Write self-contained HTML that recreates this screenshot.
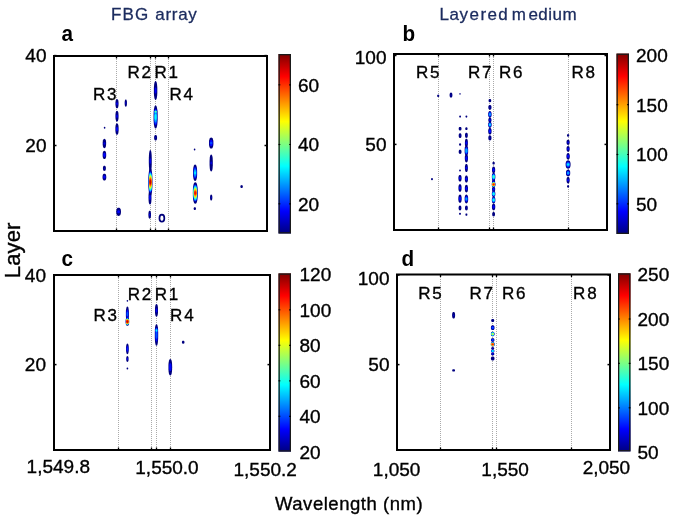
<!DOCTYPE html><html><head><meta charset="utf-8"><style>html,body{margin:0;padding:0;background:#fff;}svg{display:block;will-change:transform;}text{font-family:"Liberation Sans", sans-serif;stroke:#000;stroke-width:0.35px;}.t{stroke:#1b2b5e;stroke-width:0.3px;}</style></head><body>
<svg width="675" height="519" viewBox="0 0 675 519">
<defs><linearGradient id="jet" x1="0" y1="1" x2="0" y2="0"><stop offset="0" stop-color="#000080"/><stop offset="0.125" stop-color="#0000ff"/><stop offset="0.375" stop-color="#00ffff"/><stop offset="0.625" stop-color="#ffff00"/><stop offset="0.875" stop-color="#ff0000"/><stop offset="1" stop-color="#800000"/></linearGradient></defs>
<rect width="675" height="519" fill="#fff"/>
<text class="t" x="111.0" y="19.8" font-size="17" fill="#1b2b5e" letter-spacing="1.2">FBG</text>
<text class="t" x="155.3" y="19.8" font-size="17" fill="#1b2b5e" letter-spacing="0.7">array</text>
<text class="t" x="439.5" y="20.2" font-size="17" fill="#1b2b5e" letter-spacing="0.5">Lay</text>
<text class="t" x="469.6" y="20.2" font-size="17" fill="#1b2b5e" letter-spacing="1.4">ered</text>
<text class="t" x="511.7" y="20.2" font-size="17" fill="#1b2b5e">m</text>
<text class="t" x="528.4" y="20.2" font-size="17" fill="#1b2b5e" letter-spacing="0.5">edium</text>
<text transform="translate(61.5,40.5) scale(0.92,1)" font-size="22.5" font-weight="bold" fill="#000" style="stroke:none">a</text>
<text transform="translate(402.5,40.5) scale(0.92,1)" font-size="22.5" font-weight="bold" fill="#000" style="stroke:none">b</text>
<text transform="translate(61.5,265.8) scale(0.92,1)" font-size="22.5" font-weight="bold" fill="#000" style="stroke:none">c</text>
<text transform="translate(401.5,265.8) scale(0.92,1)" font-size="22.5" font-weight="bold" fill="#000" style="stroke:none">d</text>
<line x1="116.5" y1="57" x2="116.5" y2="231" stroke="#aaaaaa" stroke-width="1" stroke-dasharray="1 1"/>
<line x1="150.5" y1="57" x2="150.5" y2="231" stroke="#aaaaaa" stroke-width="1" stroke-dasharray="1 1"/>
<line x1="155.5" y1="57" x2="155.5" y2="231" stroke="#aaaaaa" stroke-width="1" stroke-dasharray="1 1"/>
<line x1="168.5" y1="57" x2="168.5" y2="231" stroke="#aaaaaa" stroke-width="1" stroke-dasharray="1 1"/>
<line x1="438.5" y1="55" x2="438.5" y2="230" stroke="#aaaaaa" stroke-width="1" stroke-dasharray="1 1"/>
<line x1="489.5" y1="55" x2="489.5" y2="230" stroke="#aaaaaa" stroke-width="1" stroke-dasharray="1 1"/>
<line x1="493.5" y1="55" x2="493.5" y2="230" stroke="#aaaaaa" stroke-width="1" stroke-dasharray="1 1"/>
<line x1="568.5" y1="55" x2="568.5" y2="230" stroke="#aaaaaa" stroke-width="1" stroke-dasharray="1 1"/>
<line x1="118.5" y1="276" x2="118.5" y2="450" stroke="#aaaaaa" stroke-width="1" stroke-dasharray="1 1"/>
<line x1="151.5" y1="276" x2="151.5" y2="450" stroke="#aaaaaa" stroke-width="1" stroke-dasharray="1 1"/>
<line x1="156.5" y1="276" x2="156.5" y2="450" stroke="#aaaaaa" stroke-width="1" stroke-dasharray="1 1"/>
<line x1="170.5" y1="276" x2="170.5" y2="450" stroke="#aaaaaa" stroke-width="1" stroke-dasharray="1 1"/>
<line x1="440.5" y1="275" x2="440.5" y2="450" stroke="#aaaaaa" stroke-width="1" stroke-dasharray="1 1"/>
<line x1="492.5" y1="275" x2="492.5" y2="450" stroke="#aaaaaa" stroke-width="1" stroke-dasharray="1 1"/>
<line x1="496.5" y1="275" x2="496.5" y2="450" stroke="#aaaaaa" stroke-width="1" stroke-dasharray="1 1"/>
<line x1="571.5" y1="275" x2="571.5" y2="450" stroke="#aaaaaa" stroke-width="1" stroke-dasharray="1 1"/>
<path d="M118.56,103.70 L118.53,105.01 L118.43,105.99 L118.27,106.80 L118.05,107.45 L117.78,107.92 L117.45,108.20 L117.00,108.30 L116.55,108.20 L116.22,107.92 L115.95,107.45 L115.73,106.80 L115.57,105.99 L115.47,105.01 L115.44,103.70 L115.47,102.39 L115.57,101.41 L115.73,100.60 L115.95,99.95 L116.22,99.48 L116.55,99.20 L117.00,99.10 L117.45,99.20 L117.78,99.48 L118.05,99.95 L118.27,100.60 L118.43,101.41 L118.53,102.39Z" fill="#000080"/>
<path d="M118.56,116.20 L118.53,117.74 L118.43,118.89 L118.27,119.84 L118.05,120.60 L117.78,121.15 L117.45,121.49 L117.00,121.60 L116.55,121.49 L116.22,121.15 L115.95,120.60 L115.73,119.84 L115.57,118.89 L115.47,117.74 L115.44,116.20 L115.47,114.66 L115.57,113.51 L115.73,112.56 L115.95,111.80 L116.22,111.25 L116.55,110.91 L117.00,110.80 L117.45,110.91 L117.78,111.25 L118.05,111.80 L118.27,112.56 L118.43,113.51 L118.53,114.66Z" fill="#000080"/>
<path d="M118.64,129.10 L118.61,130.73 L118.50,131.94 L118.34,132.95 L118.11,133.74 L117.82,134.33 L117.47,134.68 L117.00,134.80 L116.53,134.68 L116.18,134.33 L115.89,133.74 L115.66,132.95 L115.50,131.94 L115.39,130.73 L115.36,129.10 L115.39,127.47 L115.50,126.26 L115.66,125.25 L115.89,124.46 L116.18,123.87 L116.53,123.52 L117.00,123.40 L117.47,123.52 L117.82,123.87 L118.11,124.46 L118.34,125.25 L118.50,126.26 L118.61,127.47Z" fill="#000080"/>
<path d="M126.95,103.10 L126.92,104.13 L126.85,104.90 L126.74,105.53 L126.57,106.03 L126.37,106.40 L126.13,106.62 L125.80,106.70 L125.47,106.62 L125.23,106.40 L125.03,106.03 L124.86,105.53 L124.75,104.90 L124.68,104.13 L124.65,103.10 L124.68,102.07 L124.75,101.30 L124.86,100.67 L125.03,100.17 L125.23,99.80 L125.47,99.58 L125.80,99.50 L126.13,99.58 L126.37,99.80 L126.57,100.17 L126.74,100.67 L126.85,101.30 L126.92,102.07Z" fill="#000080"/>
<ellipse cx="104.6" cy="127.8" rx="0.82" ry="1.00" fill="#000080"/>
<path d="M106.12,143.50 L106.09,144.84 L105.98,145.84 L105.80,146.67 L105.56,147.33 L105.26,147.81 L104.89,148.10 L104.40,148.20 L103.91,148.10 L103.54,147.81 L103.24,147.33 L103.00,146.67 L102.82,145.84 L102.71,144.84 L102.68,143.50 L102.71,142.16 L102.82,141.16 L103.00,140.33 L103.24,139.67 L103.54,139.19 L103.91,138.90 L104.40,138.80 L104.89,138.90 L105.26,139.19 L105.56,139.67 L105.80,140.33 L105.98,141.16 L106.09,142.16Z" fill="#000080"/>
<path d="M106.20,154.90 L106.17,156.07 L106.05,156.94 L105.87,157.67 L105.62,158.24 L105.30,158.66 L104.92,158.91 L104.40,159.00 L103.88,158.91 L103.50,158.66 L103.18,158.24 L102.93,157.67 L102.75,156.94 L102.63,156.07 L102.60,154.90 L102.63,153.73 L102.75,152.86 L102.93,152.13 L103.18,151.56 L103.50,151.14 L103.88,150.89 L104.40,150.80 L104.92,150.89 L105.30,151.14 L105.62,151.56 L105.87,152.13 L106.05,152.86 L106.17,153.73Z" fill="#000080"/>
<path d="M105.88,168.30 L105.85,169.04 L105.75,169.60 L105.60,170.05 L105.40,170.42 L105.14,170.68 L104.82,170.85 L104.40,170.90 L103.98,170.85 L103.66,170.68 L103.40,170.42 L103.20,170.05 L103.05,169.60 L102.95,169.04 L102.92,168.30 L102.95,167.56 L103.05,167.00 L103.20,166.55 L103.40,166.18 L103.66,165.92 L103.98,165.75 L104.40,165.70 L104.82,165.75 L105.14,165.92 L105.40,166.18 L105.60,166.55 L105.75,167.00 L105.85,167.56Z" fill="#000080"/>
<path d="M106.29,177.10 L106.25,178.07 L106.13,178.80 L105.94,179.39 L105.67,179.87 L105.34,180.22 L104.94,180.43 L104.40,180.50 L103.86,180.43 L103.46,180.22 L103.13,179.87 L102.86,179.39 L102.67,178.80 L102.55,178.07 L102.51,177.10 L102.55,176.13 L102.67,175.40 L102.86,174.81 L103.13,174.33 L103.46,173.98 L103.86,173.77 L104.40,173.70 L104.94,173.77 L105.34,173.98 L105.67,174.33 L105.94,174.81 L106.13,175.40 L106.25,176.13Z" fill="#000080"/>
<path d="M120.98,211.80 L120.93,212.97 L120.78,213.84 L120.54,214.57 L120.20,215.14 L119.79,215.56 L119.28,215.81 L118.60,215.90 L117.92,215.81 L117.41,215.56 L117.00,215.14 L116.66,214.57 L116.42,213.84 L116.27,212.97 L116.22,211.80 L116.27,210.63 L116.42,209.76 L116.66,209.03 L117.00,208.46 L117.41,208.04 L117.92,207.79 L118.60,207.70 L119.28,207.79 L119.79,208.04 L120.20,208.46 L120.54,209.03 L120.78,209.76 L120.93,210.63Z" fill="#000080"/>
<path d="M157.32,90.50 L157.29,93.19 L157.18,95.19 L157.00,96.84 L156.76,98.16 L156.46,99.12 L156.09,99.70 L155.60,99.90 L155.11,99.70 L154.74,99.12 L154.44,98.16 L154.20,96.84 L154.02,95.19 L153.91,93.19 L153.88,90.50 L153.91,87.81 L154.02,85.81 L154.20,84.16 L154.44,82.84 L154.74,81.88 L155.11,81.30 L155.60,81.10 L156.09,81.30 L156.46,81.88 L156.76,82.84 L157.00,84.16 L157.18,85.81 L157.29,87.81Z" fill="#000080"/>
<path d="M157.65,117.00 L157.61,120.29 L157.48,122.73 L157.27,124.76 L156.98,126.37 L156.62,127.54 L156.19,128.26 L155.60,128.50 L155.01,128.26 L154.58,127.54 L154.22,126.37 L153.93,124.76 L153.72,122.73 L153.59,120.29 L153.55,117.00 L153.59,113.71 L153.72,111.27 L153.93,109.24 L154.22,107.63 L154.58,106.46 L155.01,105.74 L155.60,105.50 L156.19,105.74 L156.62,106.46 L156.98,107.63 L157.27,109.24 L157.48,111.27 L157.61,113.71Z" fill="#000080"/>
<path d="M157.24,111.80 L157.21,112.51 L157.10,113.05 L156.94,113.49 L156.71,113.84 L156.42,114.09 L156.07,114.25 L155.60,114.30 L155.13,114.25 L154.78,114.09 L154.49,113.84 L154.26,113.49 L154.10,113.05 L153.99,112.51 L153.96,111.80 L153.99,111.09 L154.10,110.55 L154.26,110.11 L154.49,109.76 L154.78,109.51 L155.13,109.35 L155.60,109.30 L156.07,109.35 L156.42,109.51 L156.71,109.76 L156.94,110.11 L157.10,110.55 L157.21,111.09Z" fill="#000080"/>
<path d="M157.08,137.70 L157.05,138.50 L156.95,139.10 L156.80,139.59 L156.60,139.98 L156.34,140.27 L156.02,140.44 L155.60,140.50 L155.18,140.44 L154.86,140.27 L154.60,139.98 L154.40,139.59 L154.25,139.10 L154.15,138.50 L154.12,137.70 L154.15,136.90 L154.25,136.30 L154.40,135.81 L154.60,135.42 L154.86,135.13 L155.18,134.96 L155.60,134.90 L156.02,134.96 L156.34,135.13 L156.60,135.42 L156.80,135.81 L156.95,136.30 L157.05,136.90Z" fill="#000080"/>
<path d="M151.78,161.00 L151.75,164.14 L151.65,166.49 L151.50,168.42 L151.30,169.96 L151.04,171.08 L150.72,171.77 L150.30,172.00 L149.88,171.77 L149.56,171.08 L149.30,169.96 L149.10,168.42 L148.95,166.49 L148.85,164.14 L148.82,161.00 L148.85,157.86 L148.95,155.51 L149.10,153.58 L149.30,152.04 L149.56,150.92 L149.88,150.23 L150.30,150.00 L150.72,150.23 L151.04,150.92 L151.30,152.04 L151.50,153.58 L151.65,155.51 L151.75,157.86Z" fill="#000080"/>
<path d="M152.45,182.00 L152.41,185.86 L152.28,188.73 L152.07,191.11 L151.78,193.00 L151.42,194.38 L150.99,195.22 L150.40,195.50 L149.81,195.22 L149.38,194.38 L149.02,193.00 L148.73,191.11 L148.52,188.73 L148.39,185.86 L148.35,182.00 L148.39,178.14 L148.52,175.27 L148.73,172.89 L149.02,171.00 L149.38,169.62 L149.81,168.78 L150.40,168.50 L150.99,168.78 L151.42,169.62 L151.78,171.00 L152.07,172.89 L152.28,175.27 L152.41,178.14Z" fill="#000080"/>
<path d="M151.48,197.50 L151.45,199.50 L151.35,200.99 L151.20,202.22 L151.00,203.20 L150.74,203.92 L150.42,204.35 L150.00,204.50 L149.58,204.35 L149.26,203.92 L149.00,203.20 L148.80,202.22 L148.65,200.99 L148.55,199.50 L148.52,197.50 L148.55,195.50 L148.65,194.01 L148.80,192.78 L149.00,191.80 L149.26,191.08 L149.58,190.65 L150.00,190.50 L150.42,190.65 L150.74,191.08 L151.00,191.80 L151.20,192.78 L151.35,194.01 L151.45,195.50Z" fill="#000080"/>
<path d="M151.01,214.70 L150.98,215.84 L150.90,216.69 L150.77,217.40 L150.59,217.96 L150.35,218.37 L150.08,218.62 L149.70,218.70 L149.32,218.62 L149.05,218.37 L148.81,217.96 L148.63,217.40 L148.50,216.69 L148.42,215.84 L148.39,214.70 L148.42,213.56 L148.50,212.71 L148.63,212.00 L148.81,211.44 L149.05,211.03 L149.32,210.78 L149.70,210.70 L150.08,210.78 L150.35,211.03 L150.59,211.44 L150.77,212.00 L150.90,212.71 L150.98,213.56Z" fill="#000080"/>
<ellipse cx="194.6" cy="149.6" rx="0.82" ry="1.00" fill="#000080"/>
<path d="M213.41,143.10 L213.37,144.67 L213.23,145.84 L213.00,146.81 L212.69,147.58 L212.30,148.14 L211.83,148.48 L211.20,148.60 L210.57,148.48 L210.10,148.14 L209.71,147.58 L209.40,146.81 L209.17,145.84 L209.03,144.67 L208.99,143.10 L209.03,141.53 L209.17,140.36 L209.40,139.39 L209.71,138.62 L210.10,138.06 L210.57,137.72 L211.20,137.60 L211.83,137.72 L212.30,138.06 L212.69,138.62 L213.00,139.39 L213.23,140.36 L213.37,141.53Z" fill="#000080"/>
<path d="M212.84,163.00 L212.81,165.43 L212.70,167.24 L212.54,168.73 L212.31,169.92 L212.02,170.79 L211.67,171.32 L211.20,171.50 L210.73,171.32 L210.38,170.79 L210.09,169.92 L209.86,168.73 L209.70,167.24 L209.59,165.43 L209.56,163.00 L209.59,160.57 L209.70,158.76 L209.86,157.27 L210.09,156.08 L210.38,155.21 L210.73,154.68 L211.20,154.50 L211.67,154.68 L212.02,155.21 L212.31,156.08 L212.54,157.27 L212.70,158.76 L212.81,160.57Z" fill="#000080"/>
<path d="M212.35,197.60 L212.32,198.46 L212.25,199.10 L212.14,199.62 L211.97,200.04 L211.77,200.35 L211.53,200.54 L211.20,200.60 L210.87,200.54 L210.63,200.35 L210.43,200.04 L210.26,199.62 L210.15,199.10 L210.08,198.46 L210.05,197.60 L210.08,196.74 L210.15,196.10 L210.26,195.58 L210.43,195.16 L210.63,194.85 L210.87,194.66 L211.20,194.60 L211.53,194.66 L211.77,194.85 L211.97,195.16 L212.14,195.58 L212.25,196.10 L212.32,196.74Z" fill="#000080"/>
<path d="M242.83,186.60 L242.80,187.03 L242.73,187.35 L242.60,187.61 L242.43,187.82 L242.21,187.98 L241.95,188.07 L241.60,188.10 L241.25,188.07 L240.99,187.98 L240.77,187.82 L240.60,187.61 L240.47,187.35 L240.40,187.03 L240.37,186.60 L240.40,186.17 L240.47,185.85 L240.60,185.59 L240.77,185.38 L240.99,185.22 L241.25,185.13 L241.60,185.10 L241.95,185.13 L242.21,185.22 L242.43,185.38 L242.60,185.59 L242.73,185.85 L242.80,186.17Z" fill="#000080"/>
<path d="M197.15,172.80 L197.11,175.14 L196.98,176.89 L196.77,178.33 L196.48,179.48 L196.12,180.32 L195.69,180.83 L195.10,181.00 L194.51,180.83 L194.08,180.32 L193.72,179.48 L193.43,178.33 L193.22,176.89 L193.09,175.14 L193.05,172.80 L193.09,170.46 L193.22,168.71 L193.43,167.27 L193.72,166.12 L194.08,165.28 L194.51,164.77 L195.10,164.60 L195.69,164.77 L196.12,165.28 L196.48,166.12 L196.77,167.27 L196.98,168.71 L197.11,170.46Z" fill="#000080"/>
<path d="M197.76,193.00 L197.71,196.09 L197.56,198.39 L197.30,200.29 L196.96,201.80 L196.53,202.90 L196.00,203.57 L195.30,203.80 L194.60,203.57 L194.07,202.90 L193.64,201.80 L193.30,200.29 L193.04,198.39 L192.89,196.09 L192.84,193.00 L192.89,189.91 L193.04,187.61 L193.30,185.71 L193.64,184.20 L194.07,183.10 L194.60,182.43 L195.30,182.20 L196.00,182.43 L196.53,183.10 L196.96,184.20 L197.30,185.71 L197.56,187.61 L197.71,189.91Z" fill="#000080"/>
<path d="M195.95,208.60 L195.92,209.00 L195.85,209.30 L195.74,209.54 L195.57,209.74 L195.37,209.88 L195.13,209.97 L194.80,210.00 L194.47,209.97 L194.23,209.88 L194.03,209.74 L193.86,209.54 L193.75,209.30 L193.68,209.00 L193.65,208.60 L193.68,208.20 L193.75,207.90 L193.86,207.66 L194.03,207.46 L194.23,207.32 L194.47,207.23 L194.80,207.20 L195.13,207.23 L195.37,207.32 L195.57,207.46 L195.74,207.66 L195.85,207.90 L195.92,208.20Z" fill="#000080"/>
<path d="M117.82,103.70 L117.80,104.08 L117.75,104.37 L117.67,104.61 L117.55,104.79 L117.41,104.93 L117.23,105.02 L117.00,105.04 L116.77,105.02 L116.59,104.93 L116.45,104.79 L116.33,104.61 L116.25,104.37 L116.20,104.08 L116.18,103.70 L116.20,103.32 L116.25,103.03 L116.33,102.79 L116.45,102.61 L116.59,102.47 L116.77,102.38 L117.00,102.36 L117.23,102.38 L117.41,102.47 L117.55,102.61 L117.67,102.79 L117.75,103.03 L117.80,103.32Z" fill="#0000f5"/>
<path d="M117.82,116.20 L117.80,116.65 L117.75,116.99 L117.67,117.26 L117.55,117.48 L117.41,117.65 L117.23,117.74 L117.00,117.78 L116.77,117.74 L116.59,117.65 L116.45,117.48 L116.33,117.26 L116.25,116.99 L116.20,116.65 L116.18,116.20 L116.20,115.75 L116.25,115.41 L116.33,115.14 L116.45,114.92 L116.59,114.75 L116.77,114.66 L117.00,114.62 L117.23,114.66 L117.41,114.75 L117.55,114.92 L117.67,115.14 L117.75,115.41 L117.80,115.75Z" fill="#0000f5"/>
<path d="M117.94,129.10 L117.92,129.71 L117.86,130.16 L117.77,130.53 L117.63,130.83 L117.47,131.05 L117.27,131.18 L117.00,131.22 L116.73,131.18 L116.53,131.05 L116.37,130.83 L116.23,130.53 L116.14,130.16 L116.08,129.71 L116.06,129.10 L116.08,128.49 L116.14,128.04 L116.23,127.67 L116.37,127.37 L116.53,127.15 L116.73,127.02 L117.00,126.98 L117.27,127.02 L117.47,127.15 L117.63,127.37 L117.77,127.67 L117.86,128.04 L117.92,128.49Z" fill="#0005ff"/>
<ellipse cx="125.8" cy="103.1" rx="0.55" ry="0.78" fill="#0000eb"/>
<path d="M105.27,143.50 L105.25,143.85 L105.20,144.10 L105.11,144.32 L104.99,144.49 L104.83,144.61 L104.65,144.69 L104.40,144.71 L104.15,144.69 L103.97,144.61 L103.81,144.49 L103.69,144.32 L103.60,144.10 L103.55,143.85 L103.53,143.50 L103.55,143.15 L103.60,142.90 L103.69,142.68 L103.81,142.51 L103.97,142.39 L104.15,142.31 L104.40,142.29 L104.65,142.31 L104.83,142.39 L104.99,142.51 L105.11,142.68 L105.20,142.90 L105.25,143.15Z" fill="#0000f0"/>
<path d="M105.57,154.90 L105.55,155.49 L105.48,155.93 L105.36,156.29 L105.19,156.57 L104.99,156.78 L104.74,156.91 L104.40,156.96 L104.06,156.91 L103.81,156.78 L103.61,156.57 L103.44,156.29 L103.32,155.93 L103.25,155.49 L103.23,154.90 L103.25,154.31 L103.32,153.87 L103.44,153.51 L103.61,153.23 L103.81,153.02 L104.06,152.89 L104.40,152.84 L104.74,152.89 L104.99,153.02 L105.19,153.23 L105.36,153.51 L105.48,153.87 L105.55,154.31Z" fill="#0005ff"/>
<ellipse cx="104.4" cy="168.3" rx="0.67" ry="0.44" fill="#0000e6"/>
<path d="M105.57,177.10 L105.54,177.53 L105.47,177.86 L105.35,178.13 L105.19,178.34 L104.98,178.50 L104.73,178.59 L104.40,178.62 L104.07,178.59 L103.82,178.50 L103.61,178.34 L103.45,178.13 L103.33,177.86 L103.26,177.53 L103.23,177.10 L103.26,176.67 L103.33,176.34 L103.45,176.07 L103.61,175.86 L103.82,175.70 L104.07,175.61 L104.40,175.58 L104.73,175.61 L104.98,175.70 L105.19,175.86 L105.35,176.07 L105.47,176.34 L105.54,176.67Z" fill="#0005ff"/>
<path d="M119.96,211.80 L119.94,212.24 L119.85,212.56 L119.71,212.83 L119.52,213.04 L119.28,213.20 L118.99,213.30 L118.60,213.33 L118.21,213.30 L117.92,213.20 L117.68,213.04 L117.49,212.83 L117.35,212.56 L117.26,212.24 L117.24,211.80 L117.26,211.36 L117.35,211.04 L117.49,210.77 L117.68,210.56 L117.92,210.40 L118.21,210.30 L118.60,210.27 L118.99,210.30 L119.28,210.40 L119.52,210.56 L119.71,210.77 L119.85,211.04 L119.94,211.36Z" fill="#0005ff"/>
<path d="M156.54,90.50 L156.52,91.37 L156.46,92.01 L156.36,92.54 L156.23,92.97 L156.07,93.28 L155.87,93.46 L155.60,93.53 L155.33,93.46 L155.13,93.28 L154.97,92.97 L154.84,92.54 L154.74,92.01 L154.68,91.37 L154.66,90.50 L154.68,89.63 L154.74,88.99 L154.84,88.46 L154.97,88.03 L155.13,87.72 L155.33,87.54 L155.60,87.47 L155.87,87.54 L156.07,87.72 L156.23,88.03 L156.36,88.46 L156.46,88.99 L156.52,89.63Z" fill="#0000fa"/>
<path d="M157.19,117.00 L157.16,119.34 L157.06,121.08 L156.90,122.52 L156.67,123.66 L156.39,124.50 L156.06,125.01 L155.60,125.18 L155.14,125.01 L154.81,124.50 L154.53,123.66 L154.30,122.52 L154.14,121.08 L154.04,119.34 L154.01,117.00 L154.04,114.66 L154.14,112.92 L154.30,111.48 L154.53,110.34 L154.81,109.50 L155.14,108.99 L155.60,108.82 L156.06,108.99 L156.39,109.50 L156.67,110.34 L156.90,111.48 L157.06,112.92 L157.16,114.66Z" fill="#0005ff"/>
<path d="M156.91,111.80 L156.88,112.33 L156.80,112.73 L156.66,113.05 L156.48,113.32 L156.25,113.51 L155.97,113.62 L155.60,113.66 L155.23,113.62 L154.95,113.51 L154.72,113.32 L154.54,113.05 L154.40,112.73 L154.32,112.33 L154.29,111.80 L154.32,111.27 L154.40,110.87 L154.54,110.55 L154.72,110.28 L154.95,110.09 L155.23,109.98 L155.60,109.94 L155.97,109.98 L156.25,110.09 L156.48,110.28 L156.66,110.55 L156.80,110.87 L156.88,111.27Z" fill="#0005ff"/>
<ellipse cx="155.6" cy="137.7" rx="0.67" ry="0.47" fill="#0000e6"/>
<path d="M151.04,161.00 L151.03,161.81 L150.98,162.41 L150.91,162.91 L150.80,163.31 L150.67,163.60 L150.51,163.78 L150.30,163.84 L150.09,163.78 L149.93,163.60 L149.80,163.31 L149.69,162.91 L149.62,162.41 L149.57,161.81 L149.56,161.00 L149.57,160.19 L149.62,159.59 L149.69,159.09 L149.80,158.69 L149.93,158.40 L150.09,158.22 L150.30,158.16 L150.51,158.22 L150.67,158.40 L150.80,158.69 L150.91,159.09 L150.98,159.59 L151.03,160.19Z" fill="#0000f0"/>
<path d="M152.09,182.00 L152.06,185.06 L151.95,187.35 L151.78,189.23 L151.54,190.73 L151.24,191.83 L150.88,192.49 L150.40,192.72 L149.92,192.49 L149.56,191.83 L149.26,190.73 L149.02,189.23 L148.85,187.35 L148.74,185.06 L148.71,182.00 L148.74,178.94 L148.85,176.65 L149.02,174.77 L149.26,173.27 L149.56,172.17 L149.92,171.51 L150.40,171.28 L150.88,171.51 L151.24,172.17 L151.54,173.27 L151.78,174.77 L151.95,176.65 L152.06,178.94Z" fill="#0005ff"/>
<path d="M150.85,197.50 L150.83,198.25 L150.78,198.80 L150.69,199.26 L150.57,199.62 L150.42,199.89 L150.24,200.05 L150.00,200.11 L149.76,200.05 L149.58,199.89 L149.43,199.62 L149.31,199.26 L149.22,198.80 L149.17,198.25 L149.15,197.50 L149.17,196.75 L149.22,196.20 L149.31,195.74 L149.43,195.38 L149.58,195.11 L149.76,194.95 L150.00,194.89 L150.24,194.95 L150.42,195.11 L150.57,195.38 L150.69,195.74 L150.78,196.20 L150.83,196.75Z" fill="#0005ff"/>
<ellipse cx="149.7" cy="214.7" rx="0.66" ry="1.03" fill="#0000f0"/>
<path d="M212.72,143.10 L212.69,143.98 L212.59,144.63 L212.44,145.18 L212.22,145.61 L211.96,145.92 L211.63,146.11 L211.20,146.18 L210.77,146.11 L210.44,145.92 L210.18,145.61 L209.96,145.18 L209.81,144.63 L209.71,143.98 L209.68,143.10 L209.71,142.22 L209.81,141.57 L209.96,141.02 L210.18,140.59 L210.44,140.28 L210.77,140.09 L211.20,140.02 L211.63,140.09 L211.96,140.28 L212.22,140.59 L212.44,141.02 L212.59,141.57 L212.69,142.22Z" fill="#0005ff"/>
<path d="M211.94,163.00 L211.93,163.41 L211.88,163.72 L211.80,163.97 L211.70,164.17 L211.57,164.32 L211.41,164.41 L211.20,164.44 L210.99,164.41 L210.83,164.32 L210.70,164.17 L210.60,163.97 L210.52,163.72 L210.47,163.41 L210.46,163.00 L210.47,162.59 L210.52,162.28 L210.60,162.03 L210.70,161.83 L210.83,161.68 L210.99,161.59 L211.20,161.56 L211.41,161.59 L211.57,161.68 L211.70,161.83 L211.80,162.03 L211.88,162.28 L211.93,162.59Z" fill="#0000e6"/>
<ellipse cx="211.2" cy="197.6" rx="0.52" ry="0.51" fill="#0000e6"/>
<path d="M196.67,172.80 L196.64,174.43 L196.54,175.64 L196.38,176.64 L196.16,177.44 L195.88,178.02 L195.55,178.38 L195.10,178.50 L194.65,178.38 L194.32,178.02 L194.04,177.44 L193.82,176.64 L193.66,175.64 L193.56,174.43 L193.53,172.80 L193.56,171.17 L193.66,169.96 L193.82,168.96 L194.04,168.16 L194.32,167.58 L194.65,167.22 L195.10,167.10 L195.55,167.22 L195.88,167.58 L196.16,168.16 L196.38,168.96 L196.54,169.96 L196.64,171.17Z" fill="#0005ff"/>
<path d="M197.33,193.00 L197.28,195.44 L197.16,197.25 L196.95,198.75 L196.67,199.95 L196.31,200.82 L195.88,201.35 L195.30,201.53 L194.72,201.35 L194.29,200.82 L193.93,199.95 L193.65,198.75 L193.44,197.25 L193.32,195.44 L193.27,193.00 L193.32,190.56 L193.44,188.75 L193.65,187.25 L193.93,186.05 L194.29,185.18 L194.72,184.65 L195.30,184.47 L195.88,184.65 L196.31,185.18 L196.67,186.05 L196.95,187.25 L197.16,188.75 L197.28,190.56Z" fill="#0005ff"/>
<path d="M157.03,117.00 L157.00,118.90 L156.91,120.31 L156.76,121.48 L156.56,122.41 L156.31,123.08 L156.01,123.50 L155.60,123.64 L155.19,123.50 L154.89,123.08 L154.64,122.41 L154.44,121.48 L154.29,120.31 L154.20,118.90 L154.17,117.00 L154.20,115.10 L154.29,113.69 L154.44,112.52 L154.64,111.59 L154.89,110.92 L155.19,110.50 L155.60,110.36 L156.01,110.50 L156.31,110.92 L156.56,111.59 L156.76,112.52 L156.91,113.69 L157.00,115.10Z" fill="#0057ff"/>
<path d="M156.81,111.80 L156.78,112.26 L156.71,112.60 L156.58,112.89 L156.41,113.11 L156.20,113.28 L155.95,113.38 L155.60,113.41 L155.25,113.38 L155.00,113.28 L154.79,113.11 L154.62,112.89 L154.49,112.60 L154.42,112.26 L154.39,111.80 L154.42,111.34 L154.49,111.00 L154.62,110.71 L154.79,110.49 L155.00,110.32 L155.25,110.22 L155.60,110.19 L155.95,110.22 L156.20,110.32 L156.41,110.49 L156.58,110.71 L156.71,111.00 L156.78,111.34Z" fill="#0057ff"/>
<path d="M152.03,182.00 L152.00,184.87 L151.90,187.00 L151.73,188.76 L151.50,190.17 L151.21,191.19 L150.87,191.82 L150.40,192.03 L149.93,191.82 L149.59,191.19 L149.30,190.17 L149.07,188.76 L148.90,187.00 L148.80,184.87 L148.77,182.00 L148.80,179.13 L148.90,177.00 L149.07,175.24 L149.30,173.83 L149.59,172.81 L149.93,172.18 L150.40,171.97 L150.87,172.18 L151.21,172.81 L151.50,173.83 L151.73,175.24 L151.90,177.00 L152.00,179.13Z" fill="#0057ff"/>
<path d="M212.27,143.10 L212.25,143.45 L212.18,143.72 L212.07,143.94 L211.92,144.11 L211.74,144.24 L211.51,144.31 L211.20,144.34 L210.89,144.31 L210.66,144.24 L210.48,144.11 L210.33,143.94 L210.22,143.72 L210.15,143.45 L210.13,143.10 L210.15,142.75 L210.22,142.48 L210.33,142.26 L210.48,142.09 L210.66,141.96 L210.89,141.89 L211.20,141.86 L211.51,141.89 L211.74,141.96 L211.92,142.09 L212.07,142.26 L212.18,142.48 L212.25,142.75Z" fill="#004dff"/>
<path d="M196.49,172.80 L196.46,174.07 L196.37,175.02 L196.23,175.81 L196.03,176.43 L195.79,176.89 L195.50,177.16 L195.10,177.26 L194.70,177.16 L194.41,176.89 L194.17,176.43 L193.97,175.81 L193.83,175.02 L193.74,174.07 L193.71,172.80 L193.74,171.53 L193.83,170.58 L193.97,169.79 L194.17,169.17 L194.41,168.71 L194.70,168.44 L195.10,168.34 L195.50,168.44 L195.79,168.71 L196.03,169.17 L196.23,169.79 L196.37,170.58 L196.46,171.53Z" fill="#0057ff"/>
<path d="M197.24,193.00 L197.20,195.27 L197.08,196.95 L196.88,198.35 L196.61,199.46 L196.27,200.27 L195.86,200.76 L195.30,200.93 L194.74,200.76 L194.33,200.27 L193.99,199.46 L193.72,198.35 L193.52,196.95 L193.40,195.27 L193.36,193.00 L193.40,190.73 L193.52,189.05 L193.72,187.65 L193.99,186.54 L194.33,185.73 L194.74,185.24 L195.30,185.07 L195.86,185.24 L196.27,185.73 L196.61,186.54 L196.88,187.65 L197.08,189.05 L197.20,190.73Z" fill="#0057ff"/>
<path d="M156.84,117.00 L156.82,118.41 L156.74,119.45 L156.61,120.32 L156.44,121.01 L156.22,121.51 L155.96,121.82 L155.60,121.92 L155.24,121.82 L154.98,121.51 L154.76,121.01 L154.59,120.32 L154.46,119.45 L154.38,118.41 L154.36,117.00 L154.38,115.59 L154.46,114.55 L154.59,113.68 L154.76,112.99 L154.98,112.49 L155.24,112.18 L155.60,112.08 L155.96,112.18 L156.22,112.49 L156.44,112.99 L156.61,113.68 L156.74,114.55 L156.82,115.59Z" fill="#00a8ff"/>
<path d="M156.70,111.80 L156.68,112.18 L156.61,112.47 L156.50,112.71 L156.34,112.89 L156.15,113.03 L155.92,113.11 L155.60,113.14 L155.28,113.11 L155.05,113.03 L154.86,112.89 L154.70,112.71 L154.59,112.47 L154.52,112.18 L154.50,111.80 L154.52,111.42 L154.59,111.13 L154.70,110.89 L154.86,110.71 L155.05,110.57 L155.28,110.49 L155.60,110.46 L155.92,110.49 L156.15,110.57 L156.34,110.71 L156.50,110.89 L156.61,111.13 L156.68,111.42Z" fill="#00a8ff"/>
<path d="M151.97,182.00 L151.93,184.66 L151.84,186.64 L151.68,188.28 L151.46,189.59 L151.18,190.54 L150.85,191.12 L150.40,191.31 L149.95,191.12 L149.62,190.54 L149.34,189.59 L149.12,188.28 L148.96,186.64 L148.87,184.66 L148.83,182.00 L148.87,179.34 L148.96,177.36 L149.12,175.72 L149.34,174.41 L149.62,173.46 L149.95,172.88 L150.40,172.69 L150.85,172.88 L151.18,173.46 L151.46,174.41 L151.68,175.72 L151.84,177.36 L151.93,179.34Z" fill="#00a8ff"/>
<path d="M196.27,172.80 L196.25,173.67 L196.18,174.32 L196.06,174.85 L195.89,175.28 L195.69,175.59 L195.44,175.78 L195.10,175.84 L194.76,175.78 L194.51,175.59 L194.31,175.28 L194.14,174.85 L194.02,174.32 L193.95,173.67 L193.93,172.80 L193.95,171.93 L194.02,171.28 L194.14,170.75 L194.31,170.32 L194.51,170.01 L194.76,169.82 L195.10,169.76 L195.44,169.82 L195.69,170.01 L195.89,170.32 L196.06,170.75 L196.18,171.28 L196.25,171.93Z" fill="#00a8ff"/>
<path d="M197.16,193.00 L197.12,195.09 L197.01,196.65 L196.82,197.93 L196.55,198.95 L196.23,199.70 L195.83,200.16 L195.30,200.31 L194.77,200.16 L194.37,199.70 L194.05,198.95 L193.78,197.93 L193.59,196.65 L193.48,195.09 L193.44,193.00 L193.48,190.91 L193.59,189.35 L193.78,188.07 L194.05,187.05 L194.37,186.30 L194.77,185.84 L195.30,185.69 L195.83,185.84 L196.23,186.30 L196.55,187.05 L196.82,188.07 L197.01,189.35 L197.12,190.91Z" fill="#00a8ff"/>
<path d="M156.63,117.00 L156.60,117.82 L156.54,118.44 L156.44,118.95 L156.29,119.35 L156.11,119.65 L155.89,119.83 L155.60,119.89 L155.31,119.83 L155.09,119.65 L154.91,119.35 L154.76,118.95 L154.66,118.44 L154.60,117.82 L154.57,117.00 L154.60,116.18 L154.66,115.56 L154.76,115.05 L154.91,114.65 L155.09,114.35 L155.31,114.17 L155.60,114.11 L155.89,114.17 L156.11,114.35 L156.29,114.65 L156.44,115.05 L156.54,115.56 L156.60,116.18Z" fill="#00faff"/>
<ellipse cx="155.6" cy="111.8" rx="0.99" ry="1.05" fill="#00faff"/>
<path d="M151.90,182.00 L151.87,184.45 L151.77,186.28 L151.62,187.79 L151.41,188.99 L151.15,189.86 L150.83,190.40 L150.40,190.58 L149.97,190.40 L149.65,189.86 L149.39,188.99 L149.18,187.79 L149.03,186.28 L148.93,184.45 L148.90,182.00 L148.93,179.55 L149.03,177.72 L149.18,176.21 L149.39,175.01 L149.65,174.14 L149.97,173.60 L150.40,173.42 L150.83,173.60 L151.15,174.14 L151.41,175.01 L151.62,176.21 L151.77,177.72 L151.87,179.55Z" fill="#00faff"/>
<path d="M196.00,172.80 L195.98,173.15 L195.93,173.41 L195.83,173.63 L195.71,173.80 L195.55,173.92 L195.36,174.00 L195.10,174.02 L194.84,174.00 L194.65,173.92 L194.49,173.80 L194.37,173.63 L194.27,173.41 L194.22,173.15 L194.20,172.80 L194.22,172.45 L194.27,172.19 L194.37,171.97 L194.49,171.80 L194.65,171.68 L194.84,171.60 L195.10,171.58 L195.36,171.60 L195.55,171.68 L195.71,171.80 L195.83,171.97 L195.93,172.19 L195.98,172.45Z" fill="#00f0ff"/>
<path d="M197.07,193.00 L197.04,194.91 L196.92,196.33 L196.74,197.50 L196.50,198.43 L196.18,199.11 L195.81,199.53 L195.30,199.67 L194.79,199.53 L194.42,199.11 L194.10,198.43 L193.86,197.50 L193.68,196.33 L193.56,194.91 L193.53,193.00 L193.56,191.09 L193.68,189.67 L193.86,188.50 L194.10,187.57 L194.42,186.89 L194.79,186.47 L195.30,186.33 L195.81,186.47 L196.18,186.89 L196.50,187.57 L196.74,188.50 L196.92,189.67 L197.04,191.09Z" fill="#00faff"/>
<ellipse cx="155.6" cy="111.8" rx="0.86" ry="0.72" fill="#4dffb2"/>
<path d="M151.83,182.00 L151.80,184.23 L151.71,185.90 L151.56,187.27 L151.36,188.36 L151.11,189.16 L150.81,189.65 L150.40,189.81 L149.99,189.65 L149.69,189.16 L149.44,188.36 L149.24,187.27 L149.09,185.90 L149.00,184.23 L148.97,182.00 L149.00,179.77 L149.09,178.10 L149.24,176.73 L149.44,175.64 L149.69,174.84 L149.99,174.35 L150.40,174.19 L150.81,174.35 L151.11,174.84 L151.36,175.64 L151.56,176.73 L151.71,178.10 L151.80,179.77Z" fill="#4dffb2"/>
<path d="M196.98,193.00 L196.95,194.71 L196.84,195.99 L196.67,197.05 L196.43,197.89 L196.14,198.50 L195.78,198.87 L195.30,199.00 L194.82,198.87 L194.46,198.50 L194.17,197.89 L193.93,197.05 L193.76,195.99 L193.65,194.71 L193.62,193.00 L193.65,191.29 L193.76,190.01 L193.93,188.95 L194.17,188.11 L194.46,187.50 L194.82,187.13 L195.30,187.00 L195.78,187.13 L196.14,187.50 L196.43,188.11 L196.67,188.95 L196.84,190.01 L196.95,191.29Z" fill="#4dffb2"/>
<ellipse cx="155.6" cy="111.8" rx="0.69" ry="0.29" fill="#94ff6b"/>
<path d="M151.76,182.00 L151.73,184.00 L151.64,185.50 L151.50,186.73 L151.32,187.71 L151.08,188.43 L150.79,188.87 L150.40,189.01 L150.01,188.87 L149.72,188.43 L149.48,187.71 L149.30,186.73 L149.16,185.50 L149.07,184.00 L149.04,182.00 L149.07,180.00 L149.16,178.50 L149.30,177.27 L149.48,176.29 L149.72,175.57 L150.01,175.13 L150.40,174.99 L150.79,175.13 L151.08,175.57 L151.32,176.29 L151.50,177.27 L151.64,178.50 L151.73,180.00Z" fill="#9eff61"/>
<path d="M196.88,193.00 L196.85,194.51 L196.75,195.64 L196.59,196.57 L196.37,197.31 L196.09,197.85 L195.75,198.18 L195.30,198.29 L194.85,198.18 L194.51,197.85 L194.23,197.31 L194.01,196.57 L193.85,195.64 L193.75,194.51 L193.72,193.00 L193.75,191.49 L193.85,190.36 L194.01,189.43 L194.23,188.69 L194.51,188.15 L194.85,187.82 L195.30,187.71 L195.75,187.82 L196.09,188.15 L196.37,188.69 L196.59,189.43 L196.75,190.36 L196.85,191.49Z" fill="#9eff61"/>
<path d="M151.68,182.00 L151.65,183.76 L151.57,185.08 L151.44,186.16 L151.26,187.03 L151.04,187.66 L150.77,188.04 L150.40,188.17 L150.03,188.04 L149.76,187.66 L149.54,187.03 L149.36,186.16 L149.23,185.08 L149.15,183.76 L149.12,182.00 L149.15,180.24 L149.23,178.92 L149.36,177.84 L149.54,176.97 L149.76,176.34 L150.03,175.96 L150.40,175.83 L150.77,175.96 L151.04,176.34 L151.26,176.97 L151.44,177.84 L151.57,178.92 L151.65,180.24Z" fill="#f0ff0f"/>
<path d="M196.78,193.00 L196.75,194.30 L196.66,195.27 L196.51,196.07 L196.30,196.70 L196.04,197.17 L195.72,197.45 L195.30,197.55 L194.88,197.45 L194.56,197.17 L194.30,196.70 L194.09,196.07 L193.94,195.27 L193.85,194.30 L193.82,193.00 L193.85,191.70 L193.94,190.73 L194.09,189.93 L194.30,189.30 L194.56,188.83 L194.88,188.55 L195.30,188.45 L195.72,188.55 L196.04,188.83 L196.30,189.30 L196.51,189.93 L196.66,190.73 L196.75,191.70Z" fill="#f0ff0f"/>
<path d="M151.60,182.00 L151.57,183.51 L151.50,184.63 L151.38,185.56 L151.21,186.30 L151.00,186.84 L150.74,187.17 L150.40,187.28 L150.06,187.17 L149.80,186.84 L149.59,186.30 L149.42,185.56 L149.30,184.63 L149.23,183.51 L149.20,182.00 L149.23,180.49 L149.30,179.37 L149.42,178.44 L149.59,177.70 L149.80,177.16 L150.06,176.83 L150.40,176.72 L150.74,176.83 L151.00,177.16 L151.21,177.70 L151.38,178.44 L151.50,179.37 L151.57,180.49Z" fill="#ffbd00"/>
<path d="M196.67,193.00 L196.64,194.07 L196.56,194.87 L196.42,195.53 L196.23,196.05 L195.98,196.43 L195.69,196.67 L195.30,196.74 L194.91,196.67 L194.62,196.43 L194.37,196.05 L194.18,195.53 L194.04,194.87 L193.96,194.07 L193.93,193.00 L193.96,191.93 L194.04,191.13 L194.18,190.47 L194.37,189.95 L194.62,189.57 L194.91,189.33 L195.30,189.26 L195.69,189.33 L195.98,189.57 L196.23,189.95 L196.42,190.47 L196.56,191.13 L196.64,191.93Z" fill="#ffbd00"/>
<path d="M151.51,182.00 L151.49,183.23 L151.42,184.15 L151.30,184.91 L151.15,185.52 L150.95,185.96 L150.72,186.23 L150.40,186.32 L150.08,186.23 L149.85,185.96 L149.65,185.52 L149.50,184.91 L149.38,184.15 L149.31,183.23 L149.29,182.00 L149.31,180.77 L149.38,179.85 L149.50,179.09 L149.65,178.48 L149.85,178.04 L150.08,177.77 L150.40,177.68 L150.72,177.77 L150.95,178.04 L151.15,178.48 L151.30,179.09 L151.42,179.85 L151.49,180.77Z" fill="#ff6b00"/>
<path d="M196.55,193.00 L196.53,193.82 L196.45,194.43 L196.32,194.93 L196.14,195.33 L195.92,195.62 L195.66,195.80 L195.30,195.86 L194.94,195.80 L194.68,195.62 L194.46,195.33 L194.28,194.93 L194.15,194.43 L194.07,193.82 L194.05,193.00 L194.07,192.18 L194.15,191.57 L194.28,191.07 L194.46,190.67 L194.68,190.38 L194.94,190.20 L195.30,190.14 L195.66,190.20 L195.92,190.38 L196.14,190.67 L196.32,191.07 L196.45,191.57 L196.53,192.18Z" fill="#ff6b00"/>
<path d="M151.41,182.00 L151.39,182.93 L151.33,183.62 L151.23,184.19 L151.08,184.65 L150.91,184.98 L150.69,185.18 L150.40,185.25 L150.11,185.18 L149.89,184.98 L149.72,184.65 L149.57,184.19 L149.47,183.62 L149.41,182.93 L149.39,182.00 L149.41,181.07 L149.47,180.38 L149.57,179.81 L149.72,179.35 L149.89,179.02 L150.11,178.82 L150.40,178.75 L150.69,178.82 L150.91,179.02 L151.08,179.35 L151.23,179.81 L151.33,180.38 L151.39,181.07Z" fill="#ff1a00"/>
<path d="M196.41,193.00 L196.39,193.52 L196.32,193.91 L196.21,194.24 L196.05,194.49 L195.85,194.68 L195.62,194.79 L195.30,194.83 L194.98,194.79 L194.75,194.68 L194.55,194.49 L194.39,194.24 L194.28,193.91 L194.21,193.52 L194.19,193.00 L194.21,192.48 L194.28,192.09 L194.39,191.76 L194.55,191.51 L194.75,191.32 L194.98,191.21 L195.30,191.17 L195.62,191.21 L195.85,191.32 L196.05,191.51 L196.21,191.76 L196.32,192.09 L196.39,192.48Z" fill="#ff1a00"/>
<path d="M151.30,182.00 L151.28,182.57 L151.22,183.00 L151.13,183.35 L151.01,183.63 L150.85,183.83 L150.66,183.96 L150.40,184.00 L150.14,183.96 L149.95,183.83 L149.79,183.63 L149.67,183.35 L149.58,183.00 L149.52,182.57 L149.50,182.00 L149.52,181.43 L149.58,181.00 L149.67,180.65 L149.79,180.37 L149.95,180.17 L150.14,180.04 L150.40,180.00 L150.66,180.04 L150.85,180.17 L151.01,180.37 L151.13,180.65 L151.22,181.00 L151.28,181.43Z" fill="#c70000"/>
<ellipse cx="195.3" cy="193.0" rx="0.91" ry="0.39" fill="#e50000"/>
<path d="M439.26,95.80 L439.23,96.14 L439.17,96.40 L439.06,96.61 L438.91,96.78 L438.73,96.90 L438.50,96.97 L438.20,97.00 L437.90,96.97 L437.67,96.90 L437.49,96.78 L437.34,96.61 L437.23,96.40 L437.17,96.14 L437.14,95.80 L437.17,95.46 L437.23,95.20 L437.34,94.99 L437.49,94.82 L437.67,94.70 L437.90,94.63 L438.20,94.60 L438.50,94.63 L438.73,94.70 L438.91,94.82 L439.06,94.99 L439.17,95.20 L439.23,95.46Z" fill="#000080"/>
<path d="M452.41,95.10 L452.38,95.81 L452.29,96.35 L452.15,96.79 L451.95,97.14 L451.70,97.39 L451.40,97.55 L451.00,97.60 L450.60,97.55 L450.30,97.39 L450.05,97.14 L449.85,96.79 L449.71,96.35 L449.62,95.81 L449.59,95.10 L449.62,94.39 L449.71,93.85 L449.85,93.41 L450.05,93.06 L450.30,92.81 L450.60,92.65 L451.00,92.60 L451.40,92.65 L451.70,92.81 L451.95,93.06 L452.15,93.41 L452.29,93.85 L452.38,94.39Z" fill="#000080"/>
<ellipse cx="460.0" cy="93.9" rx="0.70" ry="0.80" fill="#000080"/>
<ellipse cx="432.0" cy="179.2" rx="0.97" ry="1.10" fill="#000080"/>
<ellipse cx="460.1" cy="116.6" rx="0.97" ry="1.10" fill="#000080"/>
<path d="M461.51,128.70 L461.48,129.21 L461.39,129.60 L461.25,129.91 L461.05,130.17 L460.80,130.35 L460.50,130.46 L460.10,130.50 L459.70,130.46 L459.40,130.35 L459.15,130.17 L458.95,129.91 L458.81,129.60 L458.72,129.21 L458.69,128.70 L458.72,128.19 L458.81,127.80 L458.95,127.49 L459.15,127.23 L459.40,127.05 L459.70,126.94 L460.10,126.90 L460.50,126.94 L460.80,127.05 L461.05,127.23 L461.25,127.49 L461.39,127.80 L461.48,128.19Z" fill="#000080"/>
<path d="M461.51,135.60 L461.48,136.29 L461.39,136.80 L461.25,137.22 L461.05,137.55 L460.80,137.80 L460.50,137.95 L460.10,138.00 L459.70,137.95 L459.40,137.80 L459.15,137.55 L458.95,137.22 L458.81,136.80 L458.72,136.29 L458.69,135.60 L458.72,134.91 L458.81,134.40 L458.95,133.98 L459.15,133.65 L459.40,133.40 L459.70,133.25 L460.10,133.20 L460.50,133.25 L460.80,133.40 L461.05,133.65 L461.25,133.98 L461.39,134.40 L461.48,134.91Z" fill="#000080"/>
<path d="M461.16,144.50 L461.13,144.84 L461.07,145.10 L460.96,145.31 L460.81,145.48 L460.63,145.60 L460.40,145.67 L460.10,145.70 L459.80,145.67 L459.57,145.60 L459.39,145.48 L459.24,145.31 L459.13,145.10 L459.07,144.84 L459.04,144.50 L459.07,144.16 L459.13,143.90 L459.24,143.69 L459.39,143.52 L459.57,143.40 L459.80,143.33 L460.10,143.30 L460.40,143.33 L460.63,143.40 L460.81,143.52 L460.96,143.69 L461.07,143.90 L461.13,144.16Z" fill="#000080"/>
<path d="M461.51,151.80 L461.48,152.40 L461.39,152.85 L461.25,153.22 L461.05,153.51 L460.80,153.73 L460.50,153.86 L460.10,153.90 L459.70,153.86 L459.40,153.73 L459.15,153.51 L458.95,153.22 L458.81,152.85 L458.72,152.40 L458.69,151.80 L458.72,151.20 L458.81,150.75 L458.95,150.38 L459.15,150.09 L459.40,149.87 L459.70,149.74 L460.10,149.70 L460.50,149.74 L460.80,149.87 L461.05,150.09 L461.25,150.38 L461.39,150.75 L461.48,151.20Z" fill="#000080"/>
<ellipse cx="460.0" cy="170.4" rx="0.88" ry="1.00" fill="#000080"/>
<path d="M461.58,178.20 L461.55,179.14 L461.45,179.85 L461.29,180.43 L461.07,180.89 L460.79,181.23 L460.45,181.43 L460.00,181.50 L459.55,181.43 L459.21,181.23 L458.93,180.89 L458.71,180.43 L458.55,179.85 L458.45,179.14 L458.42,178.20 L458.45,177.26 L458.55,176.55 L458.71,175.97 L458.93,175.51 L459.21,175.17 L459.55,174.97 L460.00,174.90 L460.45,174.97 L460.79,175.17 L461.07,175.51 L461.29,175.97 L461.45,176.55 L461.55,177.26Z" fill="#000080"/>
<path d="M461.58,188.00 L461.55,189.09 L461.45,189.89 L461.29,190.56 L461.07,191.10 L460.79,191.48 L460.45,191.72 L460.00,191.80 L459.55,191.72 L459.21,191.48 L458.93,191.10 L458.71,190.56 L458.55,189.89 L458.45,189.09 L458.42,188.00 L458.45,186.91 L458.55,186.11 L458.71,185.44 L458.93,184.90 L459.21,184.52 L459.55,184.28 L460.00,184.20 L460.45,184.28 L460.79,184.52 L461.07,184.90 L461.29,185.44 L461.45,186.11 L461.55,186.91Z" fill="#000080"/>
<path d="M461.67,198.70 L461.64,199.87 L461.53,200.74 L461.36,201.47 L461.13,202.04 L460.83,202.46 L460.48,202.71 L460.00,202.80 L459.52,202.71 L459.17,202.46 L458.87,202.04 L458.64,201.47 L458.47,200.74 L458.36,199.87 L458.33,198.70 L458.36,197.53 L458.47,196.66 L458.64,195.93 L458.87,195.36 L459.17,194.94 L459.52,194.69 L460.00,194.60 L460.48,194.69 L460.83,194.94 L461.13,195.36 L461.36,195.93 L461.53,196.66 L461.64,197.53Z" fill="#000080"/>
<path d="M461.41,208.00 L461.38,208.69 L461.29,209.20 L461.15,209.62 L460.95,209.95 L460.70,210.20 L460.40,210.35 L460.00,210.40 L459.60,210.35 L459.30,210.20 L459.05,209.95 L458.85,209.62 L458.71,209.20 L458.62,208.69 L458.59,208.00 L458.62,207.31 L458.71,206.80 L458.85,206.38 L459.05,206.05 L459.30,205.80 L459.60,205.65 L460.00,205.60 L460.40,205.65 L460.70,205.80 L460.95,206.05 L461.15,206.38 L461.29,206.80 L461.38,207.31Z" fill="#000080"/>
<ellipse cx="460.0" cy="213.8" rx="0.97" ry="1.10" fill="#000080"/>
<ellipse cx="466.4" cy="116.6" rx="0.97" ry="1.10" fill="#000080"/>
<path d="M467.54,128.70 L467.52,129.10 L467.45,129.40 L467.33,129.64 L467.17,129.84 L466.97,129.98 L466.73,130.07 L466.40,130.10 L466.07,130.07 L465.83,129.98 L465.63,129.84 L465.47,129.64 L465.35,129.40 L465.28,129.10 L465.26,128.70 L465.28,128.30 L465.35,128.00 L465.47,127.76 L465.63,127.56 L465.83,127.42 L466.07,127.33 L466.40,127.30 L466.73,127.33 L466.97,127.42 L467.17,127.56 L467.33,127.76 L467.45,128.00 L467.52,128.30Z" fill="#000080"/>
<path d="M467.81,135.30 L467.78,136.04 L467.69,136.60 L467.55,137.05 L467.35,137.42 L467.10,137.68 L466.80,137.85 L466.40,137.90 L466.00,137.85 L465.70,137.68 L465.45,137.42 L465.25,137.05 L465.11,136.60 L465.02,136.04 L464.99,135.30 L465.02,134.56 L465.11,134.00 L465.25,133.55 L465.45,133.18 L465.70,132.92 L466.00,132.75 L466.40,132.70 L466.80,132.75 L467.10,132.92 L467.35,133.18 L467.55,133.55 L467.69,134.00 L467.78,134.56Z" fill="#000080"/>
<path d="M467.90,143.00 L467.86,144.23 L467.77,145.14 L467.62,145.90 L467.41,146.50 L467.15,146.94 L466.83,147.21 L466.40,147.30 L465.97,147.21 L465.65,146.94 L465.39,146.50 L465.18,145.90 L465.03,145.14 L464.94,144.23 L464.90,143.00 L464.94,141.77 L465.03,140.86 L465.18,140.10 L465.39,139.50 L465.65,139.06 L465.97,138.79 L466.40,138.70 L466.83,138.79 L467.15,139.06 L467.41,139.50 L467.62,140.10 L467.77,140.86 L467.86,141.77Z" fill="#000080"/>
<path d="M468.16,150.70 L468.12,152.13 L468.01,153.19 L467.83,154.07 L467.59,154.77 L467.28,155.28 L466.90,155.60 L466.40,155.70 L465.90,155.60 L465.52,155.28 L465.21,154.77 L464.97,154.07 L464.79,153.19 L464.68,152.13 L464.64,150.70 L464.68,149.27 L464.79,148.21 L464.97,147.33 L465.21,146.63 L465.52,146.12 L465.90,145.80 L466.40,145.70 L466.90,145.80 L467.28,146.12 L467.59,146.63 L467.83,147.33 L468.01,148.21 L468.12,149.27Z" fill="#000080"/>
<path d="M467.98,158.30 L467.95,159.47 L467.85,160.34 L467.69,161.07 L467.47,161.64 L467.19,162.06 L466.85,162.31 L466.40,162.40 L465.95,162.31 L465.61,162.06 L465.33,161.64 L465.11,161.07 L464.95,160.34 L464.85,159.47 L464.82,158.30 L464.85,157.13 L464.95,156.26 L465.11,155.53 L465.33,154.96 L465.61,154.54 L465.95,154.29 L466.40,154.20 L466.85,154.29 L467.19,154.54 L467.47,154.96 L467.69,155.53 L467.85,156.26 L467.95,157.13Z" fill="#000080"/>
<path d="M467.90,168.00 L467.86,169.17 L467.77,170.04 L467.62,170.77 L467.41,171.34 L467.15,171.76 L466.83,172.01 L466.40,172.10 L465.97,172.01 L465.65,171.76 L465.39,171.34 L465.18,170.77 L465.03,170.04 L464.94,169.17 L464.90,168.00 L464.94,166.83 L465.03,165.96 L465.18,165.23 L465.39,164.66 L465.65,164.24 L465.97,163.99 L466.40,163.90 L466.83,163.99 L467.15,164.24 L467.41,164.66 L467.62,165.23 L467.77,165.96 L467.86,166.83Z" fill="#000080"/>
<path d="M467.98,179.00 L467.95,180.00 L467.85,180.75 L467.69,181.36 L467.47,181.85 L467.19,182.21 L466.85,182.43 L466.40,182.50 L465.95,182.43 L465.61,182.21 L465.33,181.85 L465.11,181.36 L464.95,180.75 L464.85,180.00 L464.82,179.00 L464.85,178.00 L464.95,177.25 L465.11,176.64 L465.33,176.15 L465.61,175.79 L465.95,175.57 L466.40,175.50 L466.85,175.57 L467.19,175.79 L467.47,176.15 L467.69,176.64 L467.85,177.25 L467.95,178.00Z" fill="#000080"/>
<path d="M467.98,188.60 L467.95,189.69 L467.85,190.49 L467.69,191.16 L467.47,191.70 L467.19,192.08 L466.85,192.32 L466.40,192.40 L465.95,192.32 L465.61,192.08 L465.33,191.70 L465.11,191.16 L464.95,190.49 L464.85,189.69 L464.82,188.60 L464.85,187.51 L464.95,186.71 L465.11,186.04 L465.33,185.50 L465.61,185.12 L465.95,184.88 L466.40,184.80 L466.85,184.88 L467.19,185.12 L467.47,185.50 L467.69,186.04 L467.85,186.71 L467.95,187.51Z" fill="#000080"/>
<path d="M468.16,199.00 L468.12,200.26 L468.01,201.19 L467.83,201.97 L467.59,202.58 L467.28,203.03 L466.90,203.31 L466.40,203.40 L465.90,203.31 L465.52,203.03 L465.21,202.58 L464.97,201.97 L464.79,201.19 L464.68,200.26 L464.64,199.00 L464.68,197.74 L464.79,196.81 L464.97,196.03 L465.21,195.42 L465.52,194.97 L465.90,194.69 L466.40,194.60 L466.90,194.69 L467.28,194.97 L467.59,195.42 L467.83,196.03 L468.01,196.81 L468.12,197.74Z" fill="#000080"/>
<path d="M467.81,208.00 L467.78,208.69 L467.69,209.20 L467.55,209.62 L467.35,209.95 L467.10,210.20 L466.80,210.35 L466.40,210.40 L466.00,210.35 L465.70,210.20 L465.45,209.95 L465.25,209.62 L465.11,209.20 L465.02,208.69 L464.99,208.00 L465.02,207.31 L465.11,206.80 L465.25,206.38 L465.45,206.05 L465.70,205.80 L466.00,205.65 L466.40,205.60 L466.80,205.65 L467.10,205.80 L467.35,206.05 L467.55,206.38 L467.69,206.80 L467.78,207.31Z" fill="#000080"/>
<path d="M467.37,214.60 L467.35,214.94 L467.29,215.20 L467.19,215.41 L467.05,215.58 L466.88,215.70 L466.68,215.77 L466.40,215.80 L466.12,215.77 L465.92,215.70 L465.75,215.58 L465.61,215.41 L465.51,215.20 L465.45,214.94 L465.43,214.60 L465.45,214.26 L465.51,214.00 L465.61,213.79 L465.75,213.62 L465.92,213.50 L466.12,213.43 L466.40,213.40 L466.68,213.43 L466.88,213.50 L467.05,213.62 L467.19,213.79 L467.29,214.00 L467.35,214.26Z" fill="#000080"/>
<path d="M491.22,100.60 L491.19,101.06 L491.11,101.40 L490.98,101.68 L490.79,101.90 L490.56,102.07 L490.28,102.17 L489.90,102.20 L489.52,102.17 L489.24,102.07 L489.01,101.90 L488.82,101.68 L488.69,101.40 L488.61,101.06 L488.58,100.60 L488.61,100.14 L488.69,99.80 L488.82,99.52 L489.01,99.30 L489.24,99.13 L489.52,99.03 L489.90,99.00 L490.28,99.03 L490.56,99.13 L490.79,99.30 L490.98,99.52 L491.11,99.80 L491.19,100.14Z" fill="#000080"/>
<path d="M491.48,107.40 L491.45,108.09 L491.35,108.60 L491.19,109.02 L490.97,109.35 L490.69,109.60 L490.35,109.75 L489.90,109.80 L489.45,109.75 L489.11,109.60 L488.83,109.35 L488.61,109.02 L488.45,108.60 L488.35,108.09 L488.32,107.40 L488.35,106.71 L488.45,106.20 L488.61,105.78 L488.83,105.45 L489.11,105.20 L489.45,105.05 L489.90,105.00 L490.35,105.05 L490.69,105.20 L490.97,105.45 L491.19,105.78 L491.35,106.20 L491.45,106.71Z" fill="#000080"/>
<path d="M491.57,114.40 L491.54,115.34 L491.43,116.05 L491.26,116.63 L491.03,117.09 L490.73,117.43 L490.38,117.63 L489.90,117.70 L489.42,117.63 L489.07,117.43 L488.77,117.09 L488.54,116.63 L488.37,116.05 L488.26,115.34 L488.23,114.40 L488.26,113.46 L488.37,112.75 L488.54,112.17 L488.77,111.71 L489.07,111.37 L489.42,111.17 L489.90,111.10 L490.38,111.17 L490.73,111.37 L491.03,111.71 L491.26,112.17 L491.43,112.75 L491.54,113.46Z" fill="#000080"/>
<path d="M491.48,120.10 L491.45,120.73 L491.35,121.20 L491.19,121.58 L490.97,121.89 L490.69,122.12 L490.35,122.25 L489.90,122.30 L489.45,122.25 L489.11,122.12 L488.83,121.89 L488.61,121.58 L488.45,121.20 L488.35,120.73 L488.32,120.10 L488.35,119.47 L488.45,119.00 L488.61,118.62 L488.83,118.31 L489.11,118.08 L489.45,117.95 L489.90,117.90 L490.35,117.95 L490.69,118.08 L490.97,118.31 L491.19,118.62 L491.35,119.00 L491.45,119.47Z" fill="#000080"/>
<path d="M491.57,124.70 L491.54,125.56 L491.43,126.20 L491.26,126.72 L491.03,127.14 L490.73,127.45 L490.38,127.64 L489.90,127.70 L489.42,127.64 L489.07,127.45 L488.77,127.14 L488.54,126.72 L488.37,126.20 L488.26,125.56 L488.23,124.70 L488.26,123.84 L488.37,123.20 L488.54,122.68 L488.77,122.26 L489.07,121.95 L489.42,121.76 L489.90,121.70 L490.38,121.76 L490.73,121.95 L491.03,122.26 L491.26,122.68 L491.43,123.20 L491.54,123.84Z" fill="#000080"/>
<path d="M491.57,131.20 L491.54,132.14 L491.43,132.85 L491.26,133.43 L491.03,133.89 L490.73,134.23 L490.38,134.43 L489.90,134.50 L489.42,134.43 L489.07,134.23 L488.77,133.89 L488.54,133.43 L488.37,132.85 L488.26,132.14 L488.23,131.20 L488.26,130.26 L488.37,129.55 L488.54,128.97 L488.77,128.51 L489.07,128.17 L489.42,127.97 L489.90,127.90 L490.38,127.97 L490.73,128.17 L491.03,128.51 L491.26,128.97 L491.43,129.55 L491.54,130.26Z" fill="#000080"/>
<path d="M491.48,137.90 L491.45,138.61 L491.35,139.15 L491.19,139.59 L490.97,139.94 L490.69,140.19 L490.35,140.35 L489.90,140.40 L489.45,140.35 L489.11,140.19 L488.83,139.94 L488.61,139.59 L488.45,139.15 L488.35,138.61 L488.32,137.90 L488.35,137.19 L488.45,136.65 L488.61,136.21 L488.83,135.86 L489.11,135.61 L489.45,135.45 L489.90,135.40 L490.35,135.45 L490.69,135.61 L490.97,135.86 L491.19,136.21 L491.35,136.65 L491.45,137.19Z" fill="#000080"/>
<path d="M494.74,163.20 L494.72,163.60 L494.65,163.90 L494.53,164.14 L494.37,164.34 L494.17,164.48 L493.93,164.57 L493.60,164.60 L493.27,164.57 L493.03,164.48 L492.83,164.34 L492.67,164.14 L492.55,163.90 L492.48,163.60 L492.46,163.20 L492.48,162.80 L492.55,162.50 L492.67,162.26 L492.83,162.06 L493.03,161.92 L493.27,161.83 L493.60,161.80 L493.93,161.83 L494.17,161.92 L494.37,162.06 L494.53,162.26 L494.65,162.50 L494.72,162.80Z" fill="#000080"/>
<path d="M495.18,169.90 L495.15,170.84 L495.05,171.55 L494.89,172.13 L494.67,172.59 L494.39,172.93 L494.05,173.13 L493.60,173.20 L493.15,173.13 L492.81,172.93 L492.53,172.59 L492.31,172.13 L492.15,171.55 L492.05,170.84 L492.02,169.90 L492.05,168.96 L492.15,168.25 L492.31,167.67 L492.53,167.21 L492.81,166.87 L493.15,166.67 L493.60,166.60 L494.05,166.67 L494.39,166.87 L494.67,167.21 L494.89,167.67 L495.05,168.25 L495.15,168.96Z" fill="#000080"/>
<path d="M495.36,176.80 L495.32,177.91 L495.21,178.74 L495.03,179.43 L494.79,179.98 L494.48,180.38 L494.10,180.62 L493.60,180.70 L493.10,180.62 L492.72,180.38 L492.41,179.98 L492.17,179.43 L491.99,178.74 L491.88,177.91 L491.84,176.80 L491.88,175.69 L491.99,174.86 L492.17,174.17 L492.41,173.62 L492.72,173.22 L493.10,172.98 L493.60,172.90 L494.10,172.98 L494.48,173.22 L494.79,173.62 L495.03,174.17 L495.21,174.86 L495.32,175.69Z" fill="#000080"/>
<path d="M495.10,181.40 L495.06,181.94 L494.97,182.35 L494.82,182.68 L494.61,182.95 L494.35,183.14 L494.03,183.26 L493.60,183.30 L493.17,183.26 L492.85,183.14 L492.59,182.95 L492.38,182.68 L492.23,182.35 L492.14,181.94 L492.10,181.40 L492.14,180.86 L492.23,180.45 L492.38,180.12 L492.59,179.85 L492.85,179.66 L493.17,179.54 L493.60,179.50 L494.03,179.54 L494.35,179.66 L494.61,179.85 L494.82,180.12 L494.97,180.45 L495.06,180.86Z" fill="#000080"/>
<path d="M495.45,184.40 L495.41,185.23 L495.29,185.85 L495.11,186.36 L494.85,186.76 L494.52,187.06 L494.13,187.24 L493.60,187.30 L493.07,187.24 L492.68,187.06 L492.35,186.76 L492.09,186.36 L491.91,185.85 L491.79,185.23 L491.75,184.40 L491.79,183.57 L491.91,182.95 L492.09,182.44 L492.35,182.04 L492.68,181.74 L493.07,181.56 L493.60,181.50 L494.13,181.56 L494.52,181.74 L494.85,182.04 L495.11,182.44 L495.29,182.95 L495.41,183.57Z" fill="#000080"/>
<path d="M495.18,189.30 L495.15,190.01 L495.05,190.55 L494.89,190.99 L494.67,191.34 L494.39,191.59 L494.05,191.75 L493.60,191.80 L493.15,191.75 L492.81,191.59 L492.53,191.34 L492.31,190.99 L492.15,190.55 L492.05,190.01 L492.02,189.30 L492.05,188.59 L492.15,188.05 L492.31,187.61 L492.53,187.26 L492.81,187.01 L493.15,186.85 L493.60,186.80 L494.05,186.85 L494.39,187.01 L494.67,187.26 L494.89,187.61 L495.05,188.05 L495.15,188.59Z" fill="#000080"/>
<path d="M495.36,193.90 L495.32,194.79 L495.21,195.45 L495.03,195.99 L494.79,196.43 L494.48,196.74 L494.10,196.94 L493.60,197.00 L493.10,196.94 L492.72,196.74 L492.41,196.43 L492.17,195.99 L491.99,195.45 L491.88,194.79 L491.84,193.90 L491.88,193.01 L491.99,192.35 L492.17,191.81 L492.41,191.37 L492.72,191.06 L493.10,190.86 L493.60,190.80 L494.10,190.86 L494.48,191.06 L494.79,191.37 L495.03,191.81 L495.21,192.35 L495.32,193.01Z" fill="#000080"/>
<path d="M495.36,200.00 L495.32,200.94 L495.21,201.65 L495.03,202.23 L494.79,202.69 L494.48,203.03 L494.10,203.23 L493.60,203.30 L493.10,203.23 L492.72,203.03 L492.41,202.69 L492.17,202.23 L491.99,201.65 L491.88,200.94 L491.84,200.00 L491.88,199.06 L491.99,198.35 L492.17,197.77 L492.41,197.31 L492.72,196.97 L493.10,196.77 L493.60,196.70 L494.10,196.77 L494.48,196.97 L494.79,197.31 L495.03,197.77 L495.21,198.35 L495.32,199.06Z" fill="#000080"/>
<path d="M495.27,206.90 L495.24,207.84 L495.13,208.55 L494.96,209.13 L494.73,209.59 L494.43,209.93 L494.08,210.13 L493.60,210.20 L493.12,210.13 L492.77,209.93 L492.47,209.59 L492.24,209.13 L492.07,208.55 L491.96,207.84 L491.93,206.90 L491.96,205.96 L492.07,205.25 L492.24,204.67 L492.47,204.21 L492.77,203.87 L493.12,203.67 L493.60,203.60 L494.08,203.67 L494.43,203.87 L494.73,204.21 L494.96,204.67 L495.13,205.25 L495.24,205.96Z" fill="#000080"/>
<path d="M495.01,214.20 L494.98,214.83 L494.89,215.30 L494.75,215.68 L494.55,215.99 L494.30,216.22 L494.00,216.35 L493.60,216.40 L493.20,216.35 L492.90,216.22 L492.65,215.99 L492.45,215.68 L492.31,215.30 L492.22,214.83 L492.19,214.20 L492.22,213.57 L492.31,213.10 L492.45,212.72 L492.65,212.41 L492.90,212.18 L493.20,212.05 L493.60,212.00 L494.00,212.05 L494.30,212.18 L494.55,212.41 L494.75,212.72 L494.89,213.10 L494.98,213.57Z" fill="#000080"/>
<path d="M569.24,135.40 L569.22,135.77 L569.15,136.05 L569.03,136.28 L568.87,136.46 L568.67,136.59 L568.43,136.67 L568.10,136.70 L567.77,136.67 L567.53,136.59 L567.33,136.46 L567.17,136.28 L567.05,136.05 L566.98,135.77 L566.96,135.40 L566.98,135.03 L567.05,134.75 L567.17,134.52 L567.33,134.34 L567.53,134.21 L567.77,134.13 L568.10,134.10 L568.43,134.13 L568.67,134.21 L568.87,134.34 L569.03,134.52 L569.15,134.75 L569.22,135.03Z" fill="#000080"/>
<path d="M569.68,142.30 L569.65,143.04 L569.55,143.60 L569.39,144.05 L569.17,144.42 L568.89,144.68 L568.55,144.85 L568.10,144.90 L567.65,144.85 L567.31,144.68 L567.03,144.42 L566.81,144.05 L566.65,143.60 L566.55,143.04 L566.52,142.30 L566.55,141.56 L566.65,141.00 L566.81,140.55 L567.03,140.18 L567.31,139.92 L567.65,139.75 L568.10,139.70 L568.55,139.75 L568.89,139.92 L569.17,140.18 L569.39,140.55 L569.55,141.00 L569.65,141.56Z" fill="#000080"/>
<path d="M569.68,148.90 L569.65,149.70 L569.55,150.30 L569.39,150.79 L569.17,151.18 L568.89,151.47 L568.55,151.64 L568.10,151.70 L567.65,151.64 L567.31,151.47 L567.03,151.18 L566.81,150.79 L566.65,150.30 L566.55,149.70 L566.52,148.90 L566.55,148.10 L566.65,147.50 L566.81,147.01 L567.03,146.62 L567.31,146.33 L567.65,146.16 L568.10,146.10 L568.55,146.16 L568.89,146.33 L569.17,146.62 L569.39,147.01 L569.55,147.50 L569.65,148.10Z" fill="#000080"/>
<path d="M569.77,156.30 L569.74,157.21 L569.63,157.90 L569.46,158.46 L569.23,158.91 L568.93,159.23 L568.58,159.43 L568.10,159.50 L567.62,159.43 L567.27,159.23 L566.97,158.91 L566.74,158.46 L566.57,157.90 L566.46,157.21 L566.43,156.30 L566.46,155.39 L566.57,154.70 L566.74,154.14 L566.97,153.69 L567.27,153.37 L567.62,153.17 L568.10,153.10 L568.58,153.17 L568.93,153.37 L569.23,153.69 L569.46,154.14 L569.63,154.70 L569.74,155.39Z" fill="#000080"/>
<path d="M570.56,164.50 L570.51,165.70 L570.36,166.59 L570.11,167.33 L569.76,167.92 L569.33,168.35 L568.80,168.61 L568.10,168.70 L567.40,168.61 L566.87,168.35 L566.44,167.92 L566.09,167.33 L565.84,166.59 L565.69,165.70 L565.64,164.50 L565.69,163.30 L565.84,162.41 L566.09,161.67 L566.44,161.08 L566.87,160.65 L567.40,160.39 L568.10,160.30 L568.80,160.39 L569.33,160.65 L569.76,161.08 L570.11,161.67 L570.36,162.41 L570.51,163.30Z" fill="#000080"/>
<path d="M570.21,173.00 L570.17,173.97 L570.04,174.70 L569.82,175.29 L569.52,175.77 L569.15,176.12 L568.70,176.33 L568.10,176.40 L567.50,176.33 L567.05,176.12 L566.68,175.77 L566.38,175.29 L566.16,174.70 L566.03,173.97 L565.99,173.00 L566.03,172.03 L566.16,171.30 L566.38,170.71 L566.68,170.23 L567.05,169.88 L567.50,169.67 L568.10,169.60 L568.70,169.67 L569.15,169.88 L569.52,170.23 L569.82,170.71 L570.04,171.30 L570.17,172.03Z" fill="#000080"/>
<path d="M569.68,180.20 L569.65,181.11 L569.55,181.80 L569.39,182.36 L569.17,182.81 L568.89,183.13 L568.55,183.33 L568.10,183.40 L567.65,183.33 L567.31,183.13 L567.03,182.81 L566.81,182.36 L566.65,181.80 L566.55,181.11 L566.52,180.20 L566.55,179.29 L566.65,178.60 L566.81,178.04 L567.03,177.59 L567.31,177.27 L567.65,177.07 L568.10,177.00 L568.55,177.07 L568.89,177.27 L569.17,177.59 L569.39,178.04 L569.55,178.60 L569.65,179.29Z" fill="#000080"/>
<path d="M569.16,186.40 L569.13,186.74 L569.07,187.00 L568.96,187.21 L568.81,187.38 L568.63,187.50 L568.40,187.57 L568.10,187.60 L567.80,187.57 L567.57,187.50 L567.39,187.38 L567.24,187.21 L567.13,187.00 L567.07,186.74 L567.04,186.40 L567.07,186.06 L567.13,185.80 L567.24,185.59 L567.39,185.42 L567.57,185.30 L567.80,185.23 L568.10,185.20 L568.40,185.23 L568.63,185.30 L568.81,185.42 L568.96,185.59 L569.07,185.80 L569.13,186.06Z" fill="#000080"/>
<ellipse cx="451.0" cy="95.1" rx="0.64" ry="0.42" fill="#0000e6"/>
<ellipse cx="460.1" cy="135.6" rx="0.64" ry="0.41" fill="#0000e6"/>
<path d="M460.91,178.20 L460.89,178.55 L460.83,178.81 L460.74,179.03 L460.61,179.20 L460.45,179.33 L460.26,179.40 L460.00,179.43 L459.74,179.40 L459.55,179.33 L459.39,179.20 L459.26,179.03 L459.17,178.81 L459.11,178.55 L459.09,178.20 L459.11,177.85 L459.17,177.59 L459.26,177.37 L459.39,177.20 L459.55,177.07 L459.74,177.00 L460.00,176.97 L460.26,177.00 L460.45,177.07 L460.61,177.20 L460.74,177.37 L460.83,177.59 L460.89,177.85Z" fill="#0005ff"/>
<path d="M460.91,188.00 L460.89,188.40 L460.83,188.71 L460.74,188.95 L460.61,189.15 L460.45,189.30 L460.26,189.39 L460.00,189.42 L459.74,189.39 L459.55,189.30 L459.39,189.15 L459.26,188.95 L459.17,188.71 L459.11,188.40 L459.09,188.00 L459.11,187.60 L459.17,187.29 L459.26,187.05 L459.39,186.85 L459.55,186.70 L459.74,186.61 L460.00,186.58 L460.26,186.61 L460.45,186.70 L460.61,186.85 L460.74,187.05 L460.83,187.29 L460.89,187.60Z" fill="#0005ff"/>
<path d="M461.06,198.70 L461.04,199.26 L460.97,199.67 L460.87,200.02 L460.72,200.29 L460.53,200.49 L460.30,200.61 L460.00,200.65 L459.70,200.61 L459.47,200.49 L459.28,200.29 L459.13,200.02 L459.03,199.67 L458.96,199.26 L458.94,198.70 L458.96,198.14 L459.03,197.73 L459.13,197.38 L459.28,197.11 L459.47,196.91 L459.70,196.79 L460.00,196.75 L460.30,196.79 L460.53,196.91 L460.72,197.11 L460.87,197.38 L460.97,197.73 L461.04,198.14Z" fill="#0005ff"/>
<ellipse cx="460.0" cy="208.0" rx="0.64" ry="0.41" fill="#0000e6"/>
<ellipse cx="466.4" cy="135.3" rx="0.64" ry="0.44" fill="#0000e6"/>
<path d="M467.26,143.00 L467.24,143.46 L467.19,143.80 L467.10,144.08 L466.98,144.30 L466.83,144.47 L466.65,144.57 L466.40,144.60 L466.15,144.57 L465.97,144.47 L465.82,144.30 L465.70,144.08 L465.61,143.80 L465.56,143.46 L465.54,143.00 L465.56,142.54 L465.61,142.20 L465.70,141.92 L465.82,141.70 L465.97,141.53 L466.15,141.43 L466.40,141.40 L466.65,141.43 L466.83,141.53 L466.98,141.70 L467.10,141.92 L467.19,142.20 L467.24,142.54Z" fill="#0005ff"/>
<path d="M467.78,150.70 L467.75,151.73 L467.66,152.50 L467.52,153.13 L467.33,153.63 L467.09,154.00 L466.79,154.23 L466.40,154.30 L466.01,154.23 L465.71,154.00 L465.47,153.63 L465.28,153.13 L465.14,152.50 L465.05,151.73 L465.02,150.70 L465.05,149.67 L465.14,148.90 L465.28,148.27 L465.47,147.77 L465.71,147.40 L466.01,147.17 L466.40,147.10 L466.79,147.17 L467.09,147.40 L467.33,147.77 L467.52,148.27 L467.66,148.90 L467.75,149.67Z" fill="#0005ff"/>
<path d="M467.41,158.30 L467.39,158.86 L467.32,159.27 L467.22,159.62 L467.08,159.89 L466.90,160.09 L466.69,160.21 L466.40,160.25 L466.11,160.21 L465.90,160.09 L465.72,159.89 L465.58,159.62 L465.48,159.27 L465.41,158.86 L465.39,158.30 L465.41,157.74 L465.48,157.33 L465.58,156.98 L465.72,156.71 L465.90,156.51 L466.11,156.39 L466.40,156.35 L466.69,156.39 L466.90,156.51 L467.08,156.71 L467.22,156.98 L467.32,157.33 L467.39,157.74Z" fill="#0005ff"/>
<path d="M467.21,168.00 L467.20,168.38 L467.15,168.66 L467.06,168.89 L466.95,169.08 L466.81,169.21 L466.63,169.29 L466.40,169.32 L466.17,169.29 L465.99,169.21 L465.85,169.08 L465.74,168.89 L465.65,168.66 L465.60,168.38 L465.59,168.00 L465.60,167.62 L465.65,167.34 L465.74,167.11 L465.85,166.92 L465.99,166.79 L466.17,166.71 L466.40,166.68 L466.63,166.71 L466.81,166.79 L466.95,166.92 L467.06,167.11 L467.15,167.34 L467.20,167.62Z" fill="#0000fa"/>
<path d="M467.35,179.00 L467.33,179.41 L467.27,179.72 L467.17,179.98 L467.04,180.18 L466.87,180.33 L466.67,180.42 L466.40,180.45 L466.13,180.42 L465.93,180.33 L465.76,180.18 L465.63,179.98 L465.53,179.72 L465.47,179.41 L465.45,179.00 L465.47,178.59 L465.53,178.28 L465.63,178.02 L465.76,177.82 L465.93,177.67 L466.13,177.58 L466.40,177.55 L466.67,177.58 L466.87,177.67 L467.04,177.82 L467.17,178.02 L467.27,178.28 L467.33,178.59Z" fill="#0005ff"/>
<path d="M467.35,188.60 L467.33,189.05 L467.27,189.38 L467.17,189.66 L467.04,189.88 L466.87,190.04 L466.67,190.14 L466.40,190.17 L466.13,190.14 L465.93,190.04 L465.76,189.88 L465.63,189.66 L465.53,189.38 L465.47,189.05 L465.45,188.60 L465.47,188.15 L465.53,187.82 L465.63,187.54 L465.76,187.32 L465.93,187.16 L466.13,187.06 L466.40,187.03 L466.67,187.06 L466.87,187.16 L467.04,187.32 L467.17,187.54 L467.27,187.82 L467.33,188.15Z" fill="#0005ff"/>
<path d="M467.72,199.00 L467.69,199.83 L467.61,200.45 L467.47,200.97 L467.29,201.37 L467.06,201.67 L466.78,201.85 L466.40,201.91 L466.02,201.85 L465.74,201.67 L465.51,201.37 L465.33,200.97 L465.19,200.45 L465.11,199.83 L465.08,199.00 L465.11,198.17 L465.19,197.55 L465.33,197.03 L465.51,196.63 L465.74,196.33 L466.02,196.15 L466.40,196.09 L466.78,196.15 L467.06,196.33 L467.29,196.63 L467.47,197.03 L467.61,197.55 L467.69,198.17Z" fill="#0005ff"/>
<ellipse cx="466.4" cy="208.0" rx="0.64" ry="0.41" fill="#0000e6"/>
<ellipse cx="489.9" cy="107.4" rx="0.72" ry="0.41" fill="#0000e6"/>
<path d="M491.20,114.40 L491.17,115.07 L491.09,115.57 L490.96,115.98 L490.78,116.31 L490.55,116.55 L490.27,116.70 L489.90,116.75 L489.53,116.70 L489.25,116.55 L489.02,116.31 L488.84,115.98 L488.71,115.57 L488.63,115.07 L488.60,114.40 L488.63,113.73 L488.71,113.23 L488.84,112.82 L489.02,112.49 L489.25,112.25 L489.53,112.10 L489.90,112.05 L490.27,112.10 L490.55,112.25 L490.78,112.49 L490.96,112.82 L491.09,113.23 L491.17,113.73Z" fill="#0005ff"/>
<ellipse cx="489.9" cy="120.1" rx="0.95" ry="0.91" fill="#0005ff"/>
<path d="M491.22,124.70 L491.20,125.33 L491.11,125.80 L490.98,126.19 L490.79,126.50 L490.56,126.72 L490.28,126.86 L489.90,126.91 L489.52,126.86 L489.24,126.72 L489.01,126.50 L488.82,126.19 L488.69,125.80 L488.60,125.33 L488.58,124.70 L488.60,124.07 L488.69,123.60 L488.82,123.21 L489.01,122.90 L489.24,122.68 L489.52,122.54 L489.90,122.49 L490.28,122.54 L490.56,122.68 L490.79,122.90 L490.98,123.21 L491.11,123.60 L491.20,124.07Z" fill="#0005ff"/>
<path d="M491.01,131.20 L490.99,131.69 L490.92,132.06 L490.80,132.36 L490.65,132.61 L490.45,132.78 L490.22,132.89 L489.90,132.93 L489.58,132.89 L489.35,132.78 L489.15,132.61 L489.00,132.36 L488.88,132.06 L488.81,131.69 L488.79,131.20 L488.81,130.71 L488.88,130.34 L489.00,130.04 L489.15,129.79 L489.35,129.62 L489.58,129.51 L489.90,129.47 L490.22,129.51 L490.45,129.62 L490.65,129.79 L490.80,130.04 L490.92,130.34 L490.99,130.71Z" fill="#0005ff"/>
<ellipse cx="489.9" cy="137.9" rx="0.72" ry="0.42" fill="#0000e6"/>
<path d="M494.61,169.90 L494.59,170.35 L494.52,170.68 L494.42,170.96 L494.28,171.18 L494.10,171.34 L493.89,171.44 L493.60,171.47 L493.31,171.44 L493.10,171.34 L492.92,171.18 L492.78,170.96 L492.68,170.68 L492.61,170.35 L492.59,169.90 L492.61,169.45 L492.68,169.12 L492.78,168.84 L492.92,168.62 L493.10,168.46 L493.31,168.36 L493.60,168.33 L493.89,168.36 L494.10,168.46 L494.28,168.62 L494.42,168.84 L494.52,169.12 L494.59,169.45Z" fill="#0005ff"/>
<path d="M495.03,176.80 L495.00,177.65 L494.91,178.29 L494.76,178.82 L494.56,179.24 L494.31,179.54 L494.01,179.73 L493.60,179.79 L493.19,179.73 L492.89,179.54 L492.64,179.24 L492.44,178.82 L492.29,178.29 L492.20,177.65 L492.17,176.80 L492.20,175.95 L492.29,175.31 L492.44,174.78 L492.64,174.36 L492.89,174.06 L493.19,173.87 L493.60,173.81 L494.01,173.87 L494.31,174.06 L494.56,174.36 L494.76,174.78 L494.91,175.31 L495.00,175.95Z" fill="#0005ff"/>
<ellipse cx="493.6" cy="181.4" rx="0.93" ry="0.85" fill="#0005ff"/>
<path d="M495.15,184.40 L495.12,185.08 L495.02,185.58 L494.87,186.00 L494.65,186.33 L494.37,186.57 L494.04,186.72 L493.60,186.77 L493.16,186.72 L492.83,186.57 L492.55,186.33 L492.33,186.00 L492.18,185.58 L492.08,185.08 L492.05,184.40 L492.08,183.72 L492.18,183.22 L492.33,182.80 L492.55,182.47 L492.83,182.23 L493.16,182.08 L493.60,182.03 L494.04,182.08 L494.37,182.23 L494.65,182.47 L494.87,182.80 L495.02,183.22 L495.12,183.72Z" fill="#0005ff"/>
<ellipse cx="493.6" cy="189.3" rx="1.01" ry="1.19" fill="#0005ff"/>
<path d="M495.02,193.90 L494.99,194.58 L494.90,195.08 L494.76,195.49 L494.56,195.83 L494.31,196.07 L494.01,196.21 L493.60,196.26 L493.19,196.21 L492.89,196.07 L492.64,195.83 L492.44,195.49 L492.30,195.08 L492.21,194.58 L492.18,193.90 L492.21,193.22 L492.30,192.72 L492.44,192.31 L492.64,191.97 L492.89,191.73 L493.19,191.59 L493.60,191.54 L494.01,191.59 L494.31,191.73 L494.56,191.97 L494.76,192.31 L494.90,192.72 L494.99,193.22Z" fill="#0005ff"/>
<path d="M495.02,200.00 L494.99,200.71 L494.90,201.25 L494.75,201.69 L494.56,202.04 L494.31,202.29 L494.00,202.45 L493.60,202.50 L493.20,202.45 L492.89,202.29 L492.64,202.04 L492.45,201.69 L492.30,201.25 L492.21,200.71 L492.18,200.00 L492.21,199.29 L492.30,198.75 L492.45,198.31 L492.64,197.96 L492.89,197.71 L493.20,197.55 L493.60,197.50 L494.00,197.55 L494.31,197.71 L494.56,197.96 L494.75,198.31 L494.90,198.75 L494.99,199.29Z" fill="#0005ff"/>
<path d="M494.66,206.90 L494.64,207.35 L494.57,207.68 L494.47,207.96 L494.32,208.18 L494.13,208.34 L493.90,208.44 L493.60,208.47 L493.30,208.44 L493.07,208.34 L492.88,208.18 L492.73,207.96 L492.63,207.68 L492.56,207.35 L492.54,206.90 L492.56,206.45 L492.63,206.12 L492.73,205.84 L492.88,205.62 L493.07,205.46 L493.30,205.36 L493.60,205.33 L493.90,205.36 L494.13,205.46 L494.32,205.62 L494.47,205.84 L494.57,206.12 L494.64,206.45Z" fill="#0005ff"/>
<ellipse cx="568.1" cy="142.3" rx="0.86" ry="0.84" fill="#0000fa"/>
<ellipse cx="568.1" cy="148.9" rx="0.91" ry="1.04" fill="#0005ff"/>
<path d="M569.16,156.30 L569.14,156.74 L569.07,157.06 L568.97,157.33 L568.82,157.54 L568.63,157.70 L568.40,157.79 L568.10,157.82 L567.80,157.79 L567.57,157.70 L567.38,157.54 L567.23,157.33 L567.13,157.06 L567.06,156.74 L567.04,156.30 L567.06,155.86 L567.13,155.54 L567.23,155.27 L567.38,155.06 L567.57,154.90 L567.80,154.81 L568.10,154.78 L568.40,154.81 L568.63,154.90 L568.82,155.06 L568.97,155.27 L569.07,155.54 L569.14,155.86Z" fill="#0005ff"/>
<path d="M569.99,164.50 L569.95,165.33 L569.83,165.96 L569.64,166.47 L569.37,166.88 L569.04,167.18 L568.64,167.36 L568.10,167.42 L567.56,167.36 L567.16,167.18 L566.83,166.88 L566.56,166.47 L566.37,165.96 L566.25,165.33 L566.21,164.50 L566.25,163.67 L566.37,163.04 L566.56,162.53 L566.83,162.12 L567.16,161.82 L567.56,161.64 L568.10,161.58 L568.64,161.64 L569.04,161.82 L569.37,162.12 L569.64,162.53 L569.83,163.04 L569.95,163.67Z" fill="#0005ff"/>
<path d="M569.69,173.00 L569.66,173.66 L569.56,174.14 L569.40,174.55 L569.18,174.87 L568.89,175.10 L568.56,175.25 L568.10,175.29 L567.64,175.25 L567.31,175.10 L567.02,174.87 L566.80,174.55 L566.64,174.14 L566.54,173.66 L566.51,173.00 L566.54,172.34 L566.64,171.86 L566.80,171.45 L567.02,171.13 L567.31,170.90 L567.64,170.75 L568.10,170.71 L568.56,170.75 L568.89,170.90 L569.18,171.13 L569.40,171.45 L569.56,171.86 L569.66,172.34Z" fill="#0005ff"/>
<ellipse cx="568.1" cy="180.2" rx="0.91" ry="1.19" fill="#0005ff"/>
<path d="M467.63,150.70 L467.60,151.53 L467.53,152.15 L467.40,152.66 L467.23,153.07 L467.01,153.37 L466.75,153.55 L466.40,153.61 L466.05,153.55 L465.79,153.37 L465.57,153.07 L465.40,152.66 L465.27,152.15 L465.20,151.53 L465.17,150.70 L465.20,149.87 L465.27,149.25 L465.40,148.74 L465.57,148.33 L465.79,148.03 L466.05,147.85 L466.40,147.79 L466.75,147.85 L467.01,148.03 L467.23,148.33 L467.40,148.74 L467.53,149.25 L467.60,149.87Z" fill="#0057ff"/>
<path d="M467.52,199.00 L467.49,199.60 L467.42,200.04 L467.31,200.40 L467.15,200.70 L466.96,200.91 L466.72,201.04 L466.40,201.08 L466.08,201.04 L465.84,200.91 L465.65,200.70 L465.49,200.40 L465.38,200.04 L465.31,199.60 L465.28,199.00 L465.31,198.40 L465.38,197.96 L465.49,197.60 L465.65,197.30 L465.84,197.09 L466.08,196.96 L466.40,196.92 L466.72,196.96 L466.96,197.09 L467.15,197.30 L467.31,197.60 L467.42,197.96 L467.49,198.40Z" fill="#0057ff"/>
<path d="M491.05,114.40 L491.02,114.93 L490.95,115.32 L490.83,115.65 L490.67,115.90 L490.47,116.09 L490.23,116.21 L489.90,116.25 L489.57,116.21 L489.33,116.09 L489.13,115.90 L488.97,115.65 L488.85,115.32 L488.78,114.93 L488.75,114.40 L488.78,113.87 L488.85,113.48 L488.97,113.15 L489.13,112.90 L489.33,112.71 L489.57,112.59 L489.90,112.55 L490.23,112.59 L490.47,112.71 L490.67,112.90 L490.83,113.15 L490.95,113.48 L491.02,113.87Z" fill="#0057ff"/>
<path d="M491.10,124.70 L491.08,125.23 L491.00,125.62 L490.88,125.95 L490.71,126.21 L490.50,126.40 L490.24,126.51 L489.90,126.55 L489.56,126.51 L489.30,126.40 L489.09,126.21 L488.92,125.95 L488.80,125.62 L488.72,125.23 L488.70,124.70 L488.72,124.17 L488.80,123.78 L488.92,123.45 L489.09,123.19 L489.30,123.00 L489.56,122.89 L489.90,122.85 L490.24,122.89 L490.50,123.00 L490.71,123.19 L490.88,123.45 L491.00,123.78 L491.08,124.17Z" fill="#0057ff"/>
<ellipse cx="489.9" cy="131.2" rx="0.70" ry="0.37" fill="#0038ff"/>
<path d="M494.94,176.80 L494.91,177.56 L494.83,178.13 L494.69,178.60 L494.50,178.97 L494.27,179.24 L493.98,179.41 L493.60,179.46 L493.22,179.41 L492.93,179.24 L492.70,178.97 L492.51,178.60 L492.37,178.13 L492.29,177.56 L492.26,176.80 L492.29,176.04 L492.37,175.47 L492.51,175.00 L492.70,174.63 L492.93,174.36 L493.22,174.19 L493.60,174.14 L493.98,174.19 L494.27,174.36 L494.50,174.63 L494.69,175.00 L494.83,175.47 L494.91,176.04Z" fill="#0057ff"/>
<path d="M495.12,184.40 L495.09,185.05 L494.99,185.54 L494.84,185.94 L494.62,186.26 L494.36,186.49 L494.03,186.63 L493.60,186.68 L493.17,186.63 L492.84,186.49 L492.58,186.26 L492.36,185.94 L492.21,185.54 L492.11,185.05 L492.08,184.40 L492.11,183.75 L492.21,183.26 L492.36,182.86 L492.58,182.54 L492.84,182.31 L493.17,182.17 L493.60,182.12 L494.03,182.17 L494.36,182.31 L494.62,182.54 L494.84,182.86 L494.99,183.26 L495.09,183.75Z" fill="#0057ff"/>
<path d="M494.93,193.90 L494.90,194.50 L494.82,194.94 L494.68,195.31 L494.49,195.60 L494.26,195.81 L493.98,195.94 L493.60,195.99 L493.22,195.94 L492.94,195.81 L492.71,195.60 L492.52,195.31 L492.38,194.94 L492.30,194.50 L492.27,193.90 L492.30,193.30 L492.38,192.86 L492.52,192.49 L492.71,192.20 L492.94,191.99 L493.22,191.86 L493.60,191.81 L493.98,191.86 L494.26,191.99 L494.49,192.20 L494.68,192.49 L494.82,192.86 L494.90,193.30Z" fill="#0057ff"/>
<path d="M494.92,200.00 L494.89,200.63 L494.81,201.09 L494.67,201.48 L494.49,201.78 L494.26,202.00 L493.98,202.14 L493.60,202.19 L493.22,202.14 L492.94,202.00 L492.71,201.78 L492.53,201.48 L492.39,201.09 L492.31,200.63 L492.28,200.00 L492.31,199.37 L492.39,198.91 L492.53,198.52 L492.71,198.22 L492.94,198.00 L493.22,197.86 L493.60,197.81 L493.98,197.86 L494.26,198.00 L494.49,198.22 L494.67,198.52 L494.81,198.91 L494.89,199.37Z" fill="#0057ff"/>
<path d="M569.77,164.50 L569.73,165.15 L569.63,165.64 L569.46,166.04 L569.22,166.36 L568.93,166.59 L568.58,166.73 L568.10,166.78 L567.62,166.73 L567.27,166.59 L566.98,166.36 L566.74,166.04 L566.57,165.64 L566.47,165.15 L566.43,164.50 L566.47,163.85 L566.57,163.36 L566.74,162.96 L566.98,162.64 L567.27,162.41 L567.62,162.27 L568.10,162.22 L568.58,162.27 L568.93,162.41 L569.22,162.64 L569.46,162.96 L569.63,163.36 L569.73,163.85Z" fill="#0057ff"/>
<path d="M569.47,173.00 L569.44,173.49 L569.36,173.85 L569.22,174.15 L569.03,174.39 L568.78,174.56 L568.49,174.66 L568.10,174.70 L567.71,174.66 L567.42,174.56 L567.17,174.39 L566.98,174.15 L566.84,173.85 L566.76,173.49 L566.73,173.00 L566.76,172.51 L566.84,172.15 L566.98,171.85 L567.17,171.61 L567.42,171.44 L567.71,171.34 L568.10,171.30 L568.49,171.34 L568.78,171.44 L569.03,171.61 L569.22,171.85 L569.36,172.15 L569.44,172.51Z" fill="#0057ff"/>
<path d="M467.44,150.70 L467.41,151.27 L467.35,151.69 L467.24,152.04 L467.10,152.32 L466.92,152.52 L466.70,152.65 L466.40,152.69 L466.10,152.65 L465.88,152.52 L465.70,152.32 L465.56,152.04 L465.45,151.69 L465.39,151.27 L465.36,150.70 L465.39,150.13 L465.45,149.71 L465.56,149.36 L465.70,149.08 L465.88,148.88 L466.10,148.75 L466.40,148.71 L466.70,148.75 L466.92,148.88 L467.10,149.08 L467.24,149.36 L467.35,149.71 L467.41,150.13Z" fill="#00a8ff"/>
<ellipse cx="466.4" cy="199.0" rx="0.87" ry="1.07" fill="#00a8ff"/>
<ellipse cx="489.9" cy="114.4" rx="0.93" ry="1.15" fill="#00a8ff"/>
<path d="M490.96,124.70 L490.93,125.10 L490.87,125.40 L490.76,125.65 L490.61,125.85 L490.43,125.99 L490.20,126.08 L489.90,126.11 L489.60,126.08 L489.37,125.99 L489.19,125.85 L489.04,125.65 L488.93,125.40 L488.87,125.10 L488.84,124.70 L488.87,124.30 L488.93,124.00 L489.04,123.75 L489.19,123.55 L489.37,123.41 L489.60,123.32 L489.90,123.29 L490.20,123.32 L490.43,123.41 L490.61,123.55 L490.76,123.75 L490.87,124.00 L490.93,124.30Z" fill="#00a8ff"/>
<path d="M494.83,176.80 L494.81,177.45 L494.73,177.93 L494.60,178.33 L494.43,178.65 L494.21,178.88 L493.95,179.02 L493.60,179.07 L493.25,179.02 L492.99,178.88 L492.77,178.65 L492.60,178.33 L492.47,177.93 L492.39,177.45 L492.37,176.80 L492.39,176.15 L492.47,175.67 L492.60,175.27 L492.77,174.95 L492.99,174.72 L493.25,174.58 L493.60,174.53 L493.95,174.58 L494.21,174.72 L494.43,174.95 L494.60,175.27 L494.73,175.67 L494.81,176.15Z" fill="#00a8ff"/>
<path d="M495.08,184.40 L495.05,185.02 L494.96,185.49 L494.81,185.87 L494.60,186.18 L494.34,186.40 L494.02,186.54 L493.60,186.59 L493.18,186.54 L492.86,186.40 L492.60,186.18 L492.39,185.87 L492.24,185.49 L492.15,185.02 L492.12,184.40 L492.15,183.78 L492.24,183.31 L492.39,182.93 L492.60,182.62 L492.86,182.40 L493.18,182.26 L493.60,182.21 L494.02,182.26 L494.34,182.40 L494.60,182.62 L494.81,182.93 L494.96,183.31 L495.05,183.78Z" fill="#00a8ff"/>
<path d="M494.81,193.90 L494.79,194.40 L494.71,194.77 L494.59,195.08 L494.42,195.33 L494.21,195.51 L493.95,195.62 L493.60,195.65 L493.25,195.62 L492.99,195.51 L492.78,195.33 L492.61,195.08 L492.49,194.77 L492.41,194.40 L492.39,193.90 L492.41,193.40 L492.49,193.03 L492.61,192.72 L492.78,192.47 L492.99,192.29 L493.25,192.18 L493.60,192.15 L493.95,192.18 L494.21,192.29 L494.42,192.47 L494.59,192.72 L494.71,193.03 L494.79,193.40Z" fill="#00a8ff"/>
<path d="M494.79,200.00 L494.77,200.52 L494.69,200.90 L494.57,201.22 L494.40,201.47 L494.20,201.65 L493.94,201.77 L493.60,201.80 L493.26,201.77 L493.00,201.65 L492.80,201.47 L492.63,201.22 L492.51,200.90 L492.43,200.52 L492.41,200.00 L492.43,199.48 L492.51,199.10 L492.63,198.78 L492.80,198.53 L493.00,198.35 L493.26,198.23 L493.60,198.20 L493.94,198.23 L494.20,198.35 L494.40,198.53 L494.57,198.78 L494.69,199.10 L494.77,199.48Z" fill="#00a8ff"/>
<path d="M569.51,164.50 L569.48,164.95 L569.39,165.28 L569.25,165.55 L569.05,165.77 L568.80,165.93 L568.50,166.02 L568.10,166.06 L567.70,166.02 L567.40,165.93 L567.15,165.77 L566.95,165.55 L566.81,165.28 L566.72,164.95 L566.69,164.50 L566.72,164.05 L566.81,163.72 L566.95,163.45 L567.15,163.23 L567.40,163.07 L567.70,162.98 L568.10,162.94 L568.50,162.98 L568.80,163.07 L569.05,163.23 L569.25,163.45 L569.39,163.72 L569.48,164.05Z" fill="#00a8ff"/>
<ellipse cx="568.1" cy="173.0" rx="1.11" ry="1.00" fill="#00a8ff"/>
<ellipse cx="489.9" cy="124.7" rx="0.83" ry="0.74" fill="#00f0ff"/>
<path d="M494.70,176.80 L494.67,177.31 L494.61,177.69 L494.49,178.00 L494.34,178.25 L494.15,178.43 L493.91,178.54 L493.60,178.58 L493.29,178.54 L493.05,178.43 L492.86,178.25 L492.71,178.00 L492.59,177.69 L492.53,177.31 L492.50,176.80 L492.53,176.29 L492.59,175.91 L492.71,175.60 L492.86,175.35 L493.05,175.17 L493.29,175.06 L493.60,175.02 L493.91,175.06 L494.15,175.17 L494.34,175.35 L494.49,175.60 L494.61,175.91 L494.67,176.29Z" fill="#00faff"/>
<path d="M495.04,184.40 L495.01,184.99 L494.92,185.44 L494.77,185.80 L494.57,186.09 L494.32,186.31 L494.01,186.44 L493.60,186.48 L493.19,186.44 L492.88,186.31 L492.63,186.09 L492.43,185.80 L492.28,185.44 L492.19,184.99 L492.16,184.40 L492.19,183.81 L492.28,183.36 L492.43,183.00 L492.63,182.71 L492.88,182.49 L493.19,182.36 L493.60,182.32 L494.01,182.36 L494.32,182.49 L494.57,182.71 L494.77,183.00 L494.92,183.36 L495.01,183.81Z" fill="#00faff"/>
<path d="M494.66,193.90 L494.64,194.28 L494.58,194.56 L494.47,194.79 L494.32,194.97 L494.13,195.11 L493.90,195.19 L493.60,195.22 L493.30,195.19 L493.07,195.11 L492.88,194.97 L492.73,194.79 L492.62,194.56 L492.56,194.28 L492.54,193.90 L492.56,193.52 L492.62,193.24 L492.73,193.01 L492.88,192.83 L493.07,192.69 L493.30,192.61 L493.60,192.58 L493.90,192.61 L494.13,192.69 L494.32,192.83 L494.47,193.01 L494.58,193.24 L494.64,193.52Z" fill="#00faff"/>
<path d="M494.63,200.00 L494.60,200.37 L494.54,200.64 L494.44,200.86 L494.29,201.04 L494.11,201.17 L493.89,201.25 L493.60,201.28 L493.31,201.25 L493.09,201.17 L492.91,201.04 L492.76,200.86 L492.66,200.64 L492.60,200.37 L492.57,200.00 L492.60,199.63 L492.66,199.36 L492.76,199.14 L492.91,198.96 L493.09,198.83 L493.31,198.75 L493.60,198.72 L493.89,198.75 L494.11,198.83 L494.29,198.96 L494.44,199.14 L494.54,199.36 L494.60,199.63Z" fill="#00faff"/>
<ellipse cx="568.1" cy="164.5" rx="1.08" ry="0.63" fill="#00f0ff"/>
<ellipse cx="493.6" cy="176.8" rx="0.88" ry="0.99" fill="#42ffbd"/>
<path d="M495.00,184.40 L494.97,184.96 L494.88,185.38 L494.74,185.73 L494.54,186.00 L494.30,186.20 L494.00,186.32 L493.60,186.37 L493.20,186.32 L492.90,186.20 L492.66,186.00 L492.46,185.73 L492.32,185.38 L492.23,184.96 L492.20,184.40 L492.23,183.84 L492.32,183.42 L492.46,183.07 L492.66,182.80 L492.90,182.60 L493.20,182.48 L493.60,182.43 L494.00,182.48 L494.30,182.60 L494.54,182.80 L494.74,183.07 L494.88,183.42 L494.97,183.84Z" fill="#4dffb2"/>
<ellipse cx="493.6" cy="193.9" rx="0.78" ry="0.49" fill="#2effd1"/>
<path d="M494.95,184.40 L494.92,184.92 L494.84,185.32 L494.70,185.64 L494.51,185.89 L494.27,186.08 L493.99,186.20 L493.60,186.23 L493.21,186.20 L492.93,186.08 L492.69,185.89 L492.50,185.64 L492.36,185.32 L492.28,184.92 L492.25,184.40 L492.28,183.88 L492.36,183.48 L492.50,183.16 L492.69,182.91 L492.93,182.72 L493.21,182.60 L493.60,182.57 L493.99,182.60 L494.27,182.72 L494.51,182.91 L494.70,183.16 L494.84,183.48 L494.92,183.88Z" fill="#9eff61"/>
<path d="M494.89,184.40 L494.86,184.88 L494.78,185.24 L494.65,185.54 L494.47,185.77 L494.24,185.94 L493.97,186.05 L493.60,186.08 L493.23,186.05 L492.96,185.94 L492.73,185.77 L492.55,185.54 L492.42,185.24 L492.34,184.88 L492.31,184.40 L492.34,183.92 L492.42,183.56 L492.55,183.26 L492.73,183.03 L492.96,182.86 L493.23,182.75 L493.60,182.72 L493.97,182.75 L494.24,182.86 L494.47,183.03 L494.65,183.26 L494.78,183.56 L494.86,183.92Z" fill="#f0ff0f"/>
<path d="M494.82,184.40 L494.80,184.83 L494.72,185.15 L494.60,185.42 L494.42,185.63 L494.21,185.78 L493.95,185.87 L493.60,185.90 L493.25,185.87 L492.99,185.78 L492.78,185.63 L492.60,185.42 L492.48,185.15 L492.40,184.83 L492.38,184.40 L492.40,183.97 L492.48,183.65 L492.60,183.38 L492.78,183.17 L492.99,183.02 L493.25,182.93 L493.60,182.90 L493.95,182.93 L494.21,183.02 L494.42,183.17 L494.60,183.38 L494.72,183.65 L494.80,183.97Z" fill="#ffbd00"/>
<path d="M494.73,184.40 L494.71,184.76 L494.64,185.03 L494.52,185.26 L494.36,185.44 L494.17,185.57 L493.92,185.65 L493.60,185.67 L493.28,185.65 L493.03,185.57 L492.84,185.44 L492.68,185.26 L492.56,185.03 L492.49,184.76 L492.47,184.40 L492.49,184.04 L492.56,183.77 L492.68,183.54 L492.84,183.36 L493.03,183.23 L493.28,183.15 L493.60,183.13 L493.92,183.15 L494.17,183.23 L494.36,183.36 L494.52,183.54 L494.64,183.77 L494.71,184.04Z" fill="#ff6b00"/>
<ellipse cx="493.6" cy="184.4" rx="1.00" ry="0.91" fill="#ff1a00"/>
<ellipse cx="127.4" cy="300.8" rx="0.77" ry="0.90" fill="#000080"/>
<path d="M128.93,314.00 L128.90,316.14 L128.80,317.74 L128.65,319.06 L128.43,320.11 L128.16,320.88 L127.84,321.34 L127.40,321.50 L126.96,321.34 L126.64,320.88 L126.37,320.11 L126.15,319.06 L126.00,317.74 L125.90,316.14 L125.87,314.00 L125.90,311.86 L126.00,310.26 L126.15,308.94 L126.37,307.89 L126.64,307.12 L126.96,306.66 L127.40,306.50 L127.84,306.66 L128.16,307.12 L128.43,307.89 L128.65,308.94 L128.80,310.26 L128.90,311.86Z" fill="#000080"/>
<path d="M129.19,321.60 L129.15,322.80 L129.04,323.69 L128.85,324.43 L128.60,325.02 L128.29,325.45 L127.91,325.71 L127.40,325.80 L126.89,325.71 L126.51,325.45 L126.20,325.02 L125.95,324.43 L125.76,323.69 L125.65,322.80 L125.62,321.60 L125.65,320.40 L125.76,319.51 L125.95,318.77 L126.20,318.18 L126.51,317.75 L126.89,317.49 L127.40,317.40 L127.91,317.49 L128.29,317.75 L128.60,318.18 L128.85,318.77 L129.04,319.51 L129.15,320.40Z" fill="#000080"/>
<path d="M128.76,348.90 L128.73,350.42 L128.65,351.54 L128.51,352.48 L128.32,353.22 L128.08,353.76 L127.79,354.09 L127.40,354.20 L127.01,354.09 L126.72,353.76 L126.48,353.22 L126.29,352.48 L126.15,351.54 L126.07,350.42 L126.04,348.90 L126.07,347.38 L126.15,346.26 L126.29,345.32 L126.48,344.58 L126.72,344.04 L127.01,343.71 L127.40,343.60 L127.79,343.71 L128.08,344.04 L128.32,344.58 L128.51,345.32 L128.65,346.26 L128.73,347.38Z" fill="#000080"/>
<path d="M128.59,359.00 L128.57,359.83 L128.49,360.45 L128.37,360.96 L128.20,361.36 L127.99,361.66 L127.74,361.84 L127.40,361.90 L127.06,361.84 L126.81,361.66 L126.60,361.36 L126.43,360.96 L126.31,360.45 L126.23,359.83 L126.21,359.00 L126.23,358.17 L126.31,357.55 L126.43,357.04 L126.60,356.64 L126.81,356.34 L127.06,356.16 L127.40,356.10 L127.74,356.16 L127.99,356.34 L128.20,356.64 L128.37,357.04 L128.49,357.55 L128.57,358.17Z" fill="#000080"/>
<ellipse cx="127.4" cy="368.6" rx="0.85" ry="1.00" fill="#000080"/>
<path d="M158.03,310.40 L158.00,312.20 L157.90,313.54 L157.75,314.65 L157.53,315.53 L157.26,316.18 L156.94,316.57 L156.50,316.70 L156.06,316.57 L155.74,316.18 L155.47,315.53 L155.25,314.65 L155.10,313.54 L155.00,312.20 L154.97,310.40 L155.00,308.60 L155.10,307.26 L155.25,306.15 L155.47,305.27 L155.74,304.62 L156.06,304.23 L156.50,304.10 L156.94,304.23 L157.26,304.62 L157.53,305.27 L157.75,306.15 L157.90,307.26 L158.00,308.60Z" fill="#000080"/>
<path d="M158.20,335.00 L158.16,338.09 L158.06,340.39 L157.88,342.29 L157.65,343.80 L157.35,344.90 L156.99,345.57 L156.50,345.80 L156.01,345.57 L155.65,344.90 L155.35,343.80 L155.12,342.29 L154.94,340.39 L154.84,338.09 L154.80,335.00 L154.84,331.91 L154.94,329.61 L155.12,327.71 L155.35,326.20 L155.65,325.10 L156.01,324.43 L156.50,324.20 L156.99,324.43 L157.35,325.10 L157.65,326.20 L157.88,327.71 L158.06,329.61 L158.16,331.91Z" fill="#000080"/>
<path d="M158.03,330.50 L158.00,331.64 L157.90,332.49 L157.75,333.20 L157.53,333.76 L157.26,334.17 L156.94,334.42 L156.50,334.50 L156.06,334.42 L155.74,334.17 L155.47,333.76 L155.25,333.20 L155.10,332.49 L155.00,331.64 L154.97,330.50 L155.00,329.36 L155.10,328.51 L155.25,327.80 L155.47,327.24 L155.74,326.83 L156.06,326.58 L156.50,326.50 L156.94,326.58 L157.26,326.83 L157.53,327.24 L157.75,327.80 L157.90,328.51 L158.00,329.36Z" fill="#000080"/>
<path d="M184.47,342.20 L184.45,342.63 L184.37,342.95 L184.24,343.21 L184.06,343.42 L183.84,343.58 L183.56,343.67 L183.20,343.70 L182.84,343.67 L182.56,343.58 L182.34,343.42 L182.16,343.21 L182.03,342.95 L181.95,342.63 L181.92,342.20 L181.95,341.77 L182.03,341.45 L182.16,341.19 L182.34,340.98 L182.56,340.82 L182.84,340.73 L183.20,340.70 L183.56,340.73 L183.84,340.82 L184.06,340.98 L184.24,341.19 L184.37,341.45 L184.45,341.77Z" fill="#000080"/>
<path d="M172.17,367.20 L172.13,369.54 L172.01,371.29 L171.82,372.73 L171.56,373.88 L171.23,374.72 L170.83,375.23 L170.30,375.40 L169.77,375.23 L169.37,374.72 L169.04,373.88 L168.78,372.73 L168.59,371.29 L168.47,369.54 L168.43,367.20 L168.47,364.86 L168.59,363.11 L168.78,361.67 L169.04,360.52 L169.37,359.68 L169.77,359.17 L170.30,359.00 L170.83,359.17 L171.23,359.68 L171.56,360.52 L171.82,361.67 L172.01,363.11 L172.13,364.86Z" fill="#000080"/>
<path d="M128.48,314.00 L128.45,315.26 L128.39,316.20 L128.28,316.98 L128.13,317.59 L127.94,318.04 L127.71,318.32 L127.40,318.41 L127.09,318.32 L126.86,318.04 L126.67,317.59 L126.52,316.98 L126.41,316.20 L126.35,315.26 L126.32,314.00 L126.35,312.74 L126.41,311.80 L126.52,311.02 L126.67,310.41 L126.86,309.96 L127.09,309.68 L127.40,309.59 L127.71,309.68 L127.94,309.96 L128.13,310.41 L128.28,311.02 L128.39,311.80 L128.45,312.74Z" fill="#0005ff"/>
<path d="M128.90,321.60 L128.87,322.58 L128.77,323.31 L128.62,323.91 L128.41,324.39 L128.15,324.75 L127.83,324.96 L127.40,325.03 L126.97,324.96 L126.65,324.75 L126.39,324.39 L126.18,323.91 L126.03,323.31 L125.93,322.58 L125.90,321.60 L125.93,320.62 L126.03,319.89 L126.18,319.29 L126.39,318.81 L126.65,318.45 L126.97,318.24 L127.40,318.17 L127.83,318.24 L128.15,318.45 L128.41,318.81 L128.62,319.29 L128.77,319.89 L128.87,320.62Z" fill="#0005ff"/>
<path d="M128.30,348.90 L128.28,349.69 L128.23,350.28 L128.14,350.77 L128.01,351.16 L127.85,351.44 L127.66,351.62 L127.40,351.67 L127.14,351.62 L126.95,351.44 L126.79,351.16 L126.66,350.77 L126.57,350.28 L126.52,349.69 L126.50,348.90 L126.52,348.11 L126.57,347.52 L126.66,347.03 L126.79,346.64 L126.95,346.36 L127.14,346.18 L127.40,346.13 L127.66,346.18 L127.85,346.36 L128.01,346.64 L128.14,347.03 L128.23,347.52 L128.28,348.11Z" fill="#0005ff"/>
<ellipse cx="127.4" cy="359.0" rx="0.65" ry="0.93" fill="#0000fa"/>
<path d="M157.33,310.40 L157.31,310.98 L157.26,311.41 L157.18,311.77 L157.06,312.05 L156.91,312.26 L156.74,312.39 L156.50,312.43 L156.26,312.39 L156.09,312.26 L155.94,312.05 L155.82,311.77 L155.74,311.41 L155.69,310.98 L155.67,310.40 L155.69,309.82 L155.74,309.39 L155.82,309.03 L155.94,308.75 L156.09,308.54 L156.26,308.41 L156.50,308.37 L156.74,308.41 L156.91,308.54 L157.06,308.75 L157.18,309.03 L157.26,309.39 L157.31,309.82Z" fill="#0000fa"/>
<path d="M157.72,335.00 L157.69,336.89 L157.62,338.29 L157.49,339.46 L157.32,340.38 L157.11,341.06 L156.85,341.47 L156.50,341.61 L156.15,341.47 L155.89,341.06 L155.68,340.38 L155.51,339.46 L155.38,338.29 L155.31,336.89 L155.28,335.00 L155.31,333.11 L155.38,331.71 L155.51,330.54 L155.68,329.62 L155.89,328.94 L156.15,328.53 L156.50,328.39 L156.85,328.53 L157.11,328.94 L157.32,329.62 L157.49,330.54 L157.62,331.71 L157.69,333.11Z" fill="#0005ff"/>
<path d="M157.68,330.50 L157.66,331.30 L157.58,331.90 L157.46,332.40 L157.30,332.79 L157.09,333.08 L156.84,333.25 L156.50,333.31 L156.16,333.25 L155.91,333.08 L155.70,332.79 L155.54,332.40 L155.42,331.90 L155.34,331.30 L155.32,330.50 L155.34,329.70 L155.42,329.10 L155.54,328.60 L155.70,328.21 L155.91,327.92 L156.16,327.75 L156.50,327.69 L156.84,327.75 L157.09,327.92 L157.30,328.21 L157.46,328.60 L157.58,329.10 L157.66,329.70Z" fill="#0005ff"/>
<path d="M171.49,367.20 L171.46,368.32 L171.39,369.15 L171.27,369.84 L171.10,370.38 L170.89,370.78 L170.64,371.03 L170.30,371.11 L169.96,371.03 L169.71,370.78 L169.50,370.38 L169.33,369.84 L169.21,369.15 L169.14,368.32 L169.11,367.20 L169.14,366.08 L169.21,365.25 L169.33,364.56 L169.50,364.02 L169.71,363.62 L169.96,363.37 L170.30,363.29 L170.64,363.37 L170.89,363.62 L171.10,364.02 L171.27,364.56 L171.39,365.25 L171.46,366.08Z" fill="#0005ff"/>
<path d="M128.21,314.00 L128.20,314.65 L128.14,315.13 L128.06,315.52 L127.95,315.84 L127.80,316.07 L127.63,316.21 L127.40,316.26 L127.17,316.21 L127.00,316.07 L126.85,315.84 L126.74,315.52 L126.66,315.13 L126.60,314.65 L126.59,314.00 L126.60,313.35 L126.66,312.87 L126.74,312.48 L126.85,312.16 L127.00,311.93 L127.17,311.79 L127.40,311.74 L127.63,311.79 L127.80,311.93 L127.95,312.16 L128.06,312.48 L128.14,312.87 L128.20,313.35Z" fill="#0057ff"/>
<path d="M128.87,321.60 L128.84,322.54 L128.74,323.25 L128.59,323.83 L128.39,324.29 L128.13,324.62 L127.82,324.83 L127.40,324.90 L126.98,324.83 L126.67,324.62 L126.41,324.29 L126.21,323.83 L126.06,323.25 L125.96,322.54 L125.93,321.60 L125.96,320.66 L126.06,319.95 L126.21,319.37 L126.41,318.91 L126.67,318.58 L126.98,318.37 L127.40,318.30 L127.82,318.37 L128.13,318.58 L128.39,318.91 L128.59,319.37 L128.74,319.95 L128.84,320.66Z" fill="#0057ff"/>
<ellipse cx="127.4" cy="348.9" rx="0.57" ry="0.60" fill="#0038ff"/>
<path d="M157.46,335.00 L157.44,336.11 L157.38,336.93 L157.28,337.61 L157.15,338.16 L156.98,338.55 L156.77,338.79 L156.50,338.87 L156.23,338.79 L156.02,338.55 L155.85,338.16 L155.72,337.61 L155.62,336.93 L155.56,336.11 L155.54,335.00 L155.56,333.89 L155.62,333.07 L155.72,332.39 L155.85,331.84 L156.02,331.45 L156.23,331.21 L156.50,331.13 L156.77,331.21 L156.98,331.45 L157.15,331.84 L157.28,332.39 L157.38,333.07 L157.44,333.89Z" fill="#0057ff"/>
<path d="M157.55,330.50 L157.53,331.14 L157.46,331.62 L157.36,332.01 L157.21,332.33 L157.02,332.56 L156.80,332.70 L156.50,332.74 L156.20,332.70 L155.98,332.56 L155.79,332.33 L155.64,332.01 L155.54,331.62 L155.47,331.14 L155.45,330.50 L155.47,329.86 L155.54,329.38 L155.64,328.99 L155.79,328.67 L155.98,328.44 L156.20,328.30 L156.50,328.26 L156.80,328.30 L157.02,328.44 L157.21,328.67 L157.36,328.99 L157.46,329.38 L157.53,329.86Z" fill="#0057ff"/>
<path d="M128.83,321.60 L128.80,322.50 L128.71,323.18 L128.57,323.73 L128.36,324.17 L128.11,324.50 L127.81,324.69 L127.40,324.76 L126.99,324.69 L126.69,324.50 L126.44,324.17 L126.23,323.73 L126.09,323.18 L126.00,322.50 L125.97,321.60 L126.00,320.70 L126.09,320.02 L126.23,319.47 L126.44,319.03 L126.69,318.70 L126.99,318.51 L127.40,318.44 L127.81,318.51 L128.11,318.70 L128.36,319.03 L128.57,319.47 L128.71,320.02 L128.80,320.70Z" fill="#00a8ff"/>
<path d="M157.40,330.50 L157.38,330.96 L157.33,331.30 L157.24,331.58 L157.11,331.81 L156.95,331.97 L156.76,332.07 L156.50,332.10 L156.24,332.07 L156.05,331.97 L155.89,331.81 L155.76,331.58 L155.67,331.30 L155.62,330.96 L155.60,330.50 L155.62,330.04 L155.67,329.70 L155.76,329.42 L155.89,329.19 L156.05,329.03 L156.24,328.93 L156.50,328.90 L156.76,328.93 L156.95,329.03 L157.11,329.19 L157.24,329.42 L157.33,329.70 L157.38,330.04Z" fill="#00a8ff"/>
<path d="M128.79,321.60 L128.76,322.46 L128.68,323.10 L128.53,323.63 L128.34,324.05 L128.09,324.36 L127.80,324.55 L127.40,324.61 L127.00,324.55 L126.71,324.36 L126.46,324.05 L126.27,323.63 L126.12,323.10 L126.04,322.46 L126.01,321.60 L126.04,320.74 L126.12,320.10 L126.27,319.57 L126.46,319.15 L126.71,318.84 L127.00,318.65 L127.40,318.59 L127.80,318.65 L128.09,318.84 L128.34,319.15 L128.53,319.57 L128.68,320.10 L128.76,320.74Z" fill="#00faff"/>
<ellipse cx="156.5" cy="330.5" rx="0.72" ry="0.82" fill="#00faff"/>
<path d="M128.75,321.60 L128.72,322.41 L128.64,323.02 L128.50,323.52 L128.31,323.92 L128.07,324.21 L127.79,324.39 L127.40,324.45 L127.01,324.39 L126.73,324.21 L126.49,323.92 L126.30,323.52 L126.16,323.02 L126.08,322.41 L126.05,321.60 L126.08,320.79 L126.16,320.18 L126.30,319.68 L126.49,319.28 L126.73,318.99 L127.01,318.81 L127.40,318.75 L127.79,318.81 L128.07,318.99 L128.31,319.28 L128.50,319.68 L128.64,320.18 L128.72,320.79Z" fill="#4dffb2"/>
<path d="M128.71,321.60 L128.68,322.36 L128.60,322.93 L128.46,323.40 L128.28,323.78 L128.05,324.05 L127.77,324.22 L127.40,324.27 L127.03,324.22 L126.75,324.05 L126.52,323.78 L126.34,323.40 L126.20,322.93 L126.12,322.36 L126.09,321.60 L126.12,320.84 L126.20,320.27 L126.34,319.80 L126.52,319.42 L126.75,319.15 L127.03,318.98 L127.40,318.93 L127.77,318.98 L128.05,319.15 L128.28,319.42 L128.46,319.80 L128.60,320.27 L128.68,320.84Z" fill="#9eff61"/>
<path d="M128.66,321.60 L128.63,322.31 L128.55,322.83 L128.42,323.27 L128.25,323.62 L128.03,323.87 L127.76,324.02 L127.40,324.07 L127.04,324.02 L126.77,323.87 L126.55,323.62 L126.38,323.27 L126.25,322.83 L126.17,322.31 L126.14,321.60 L126.17,320.89 L126.25,320.37 L126.38,319.93 L126.55,319.58 L126.77,319.33 L127.04,319.18 L127.40,319.13 L127.76,319.18 L128.03,319.33 L128.25,319.58 L128.42,319.93 L128.55,320.37 L128.63,320.89Z" fill="#f0ff0f"/>
<path d="M128.60,321.60 L128.57,322.24 L128.50,322.72 L128.38,323.12 L128.21,323.43 L128.00,323.66 L127.74,323.80 L127.40,323.85 L127.06,323.80 L126.80,323.66 L126.59,323.43 L126.42,323.12 L126.30,322.72 L126.23,322.24 L126.20,321.60 L126.23,320.96 L126.30,320.48 L126.42,320.08 L126.59,319.77 L126.80,319.54 L127.06,319.40 L127.40,319.35 L127.74,319.40 L128.00,319.54 L128.21,319.77 L128.38,320.08 L128.50,320.48 L128.57,320.96Z" fill="#ffbd00"/>
<path d="M128.53,321.60 L128.51,322.17 L128.44,322.59 L128.32,322.94 L128.16,323.22 L127.96,323.42 L127.72,323.55 L127.40,323.59 L127.08,323.55 L126.84,323.42 L126.64,323.22 L126.48,322.94 L126.36,322.59 L126.29,322.17 L126.27,321.60 L126.29,321.03 L126.36,320.61 L126.48,320.26 L126.64,319.98 L126.84,319.78 L127.08,319.65 L127.40,319.61 L127.72,319.65 L127.96,319.78 L128.16,319.98 L128.32,320.26 L128.44,320.61 L128.51,321.03Z" fill="#ff6b00"/>
<path d="M128.45,321.60 L128.43,322.07 L128.36,322.43 L128.25,322.72 L128.11,322.95 L127.92,323.12 L127.70,323.22 L127.40,323.26 L127.10,323.22 L126.88,323.12 L126.69,322.95 L126.55,322.72 L126.44,322.43 L126.37,322.07 L126.35,321.60 L126.37,321.13 L126.44,320.77 L126.55,320.48 L126.69,320.25 L126.88,320.08 L127.10,319.98 L127.40,319.94 L127.70,319.98 L127.92,320.08 L128.11,320.25 L128.25,320.48 L128.36,320.77 L128.43,321.13Z" fill="#ff1a00"/>
<ellipse cx="127.4" cy="321.6" rx="0.93" ry="1.18" fill="#c70000"/>
<path d="M455.10,315.20 L455.07,316.14 L454.98,316.85 L454.82,317.43 L454.61,317.89 L454.35,318.23 L454.03,318.43 L453.60,318.50 L453.17,318.43 L452.85,318.23 L452.59,317.89 L452.38,317.43 L452.22,316.85 L452.13,316.14 L452.10,315.20 L452.13,314.26 L452.22,313.55 L452.38,312.97 L452.59,312.51 L452.85,312.17 L453.17,311.97 L453.60,311.90 L454.03,311.97 L454.35,312.17 L454.61,312.51 L454.82,312.97 L454.98,313.55 L455.07,314.26Z" fill="#000080"/>
<path d="M455.00,370.40 L454.97,370.74 L454.88,371.00 L454.74,371.21 L454.54,371.38 L454.30,371.50 L454.00,371.57 L453.60,371.60 L453.20,371.57 L452.90,371.50 L452.66,371.38 L452.46,371.21 L452.32,371.00 L452.23,370.74 L452.20,370.40 L452.23,370.06 L452.32,369.80 L452.46,369.59 L452.66,369.42 L452.90,369.30 L453.20,369.23 L453.60,369.20 L454.00,369.23 L454.30,369.30 L454.54,369.42 L454.74,369.59 L454.88,369.80 L454.97,370.06Z" fill="#000080"/>
<path d="M494.20,320.50 L494.17,320.93 L494.08,321.25 L493.92,321.51 L493.71,321.72 L493.45,321.88 L493.13,321.97 L492.70,322.00 L492.27,321.97 L491.95,321.88 L491.69,321.72 L491.48,321.51 L491.32,321.25 L491.23,320.93 L491.20,320.50 L491.23,320.07 L491.32,319.75 L491.48,319.49 L491.69,319.28 L491.95,319.12 L492.27,319.03 L492.70,319.00 L493.13,319.03 L493.45,319.12 L493.71,319.28 L493.92,319.49 L494.08,319.75 L494.17,320.07Z" fill="#000080"/>
<path d="M494.50,327.70 L494.46,328.39 L494.35,328.90 L494.17,329.32 L493.91,329.65 L493.60,329.90 L493.21,330.05 L492.70,330.10 L492.19,330.05 L491.80,329.90 L491.49,329.65 L491.23,329.32 L491.05,328.90 L490.94,328.39 L490.90,327.70 L490.94,327.01 L491.05,326.50 L491.23,326.08 L491.49,325.75 L491.80,325.50 L492.19,325.35 L492.70,325.30 L493.21,325.35 L493.60,325.50 L493.91,325.75 L494.17,326.08 L494.35,326.50 L494.46,327.01Z" fill="#000080"/>
<path d="M494.50,334.00 L494.46,334.63 L494.35,335.10 L494.17,335.48 L493.91,335.79 L493.60,336.02 L493.21,336.15 L492.70,336.20 L492.19,336.15 L491.80,336.02 L491.49,335.79 L491.23,335.48 L491.05,335.10 L490.94,334.63 L490.90,334.00 L490.94,333.37 L491.05,332.90 L491.23,332.52 L491.49,332.21 L491.80,331.98 L492.19,331.85 L492.70,331.80 L493.21,331.85 L493.60,331.98 L493.91,332.21 L494.17,332.52 L494.35,332.90 L494.46,333.37Z" fill="#000080"/>
<path d="M494.40,340.00 L494.36,340.51 L494.26,340.90 L494.08,341.21 L493.85,341.47 L493.55,341.65 L493.19,341.76 L492.70,341.80 L492.21,341.76 L491.85,341.65 L491.55,341.47 L491.32,341.21 L491.14,340.90 L491.04,340.51 L491.00,340.00 L491.04,339.49 L491.14,339.10 L491.32,338.79 L491.55,338.53 L491.85,338.35 L492.21,338.24 L492.70,338.20 L493.19,338.24 L493.55,338.35 L493.85,338.53 L494.08,338.79 L494.26,339.10 L494.36,339.49Z" fill="#000080"/>
<path d="M494.60,344.30 L494.56,344.93 L494.44,345.40 L494.25,345.78 L493.98,346.09 L493.65,346.32 L493.24,346.45 L492.70,346.50 L492.16,346.45 L491.75,346.32 L491.42,346.09 L491.15,345.78 L490.96,345.40 L490.84,344.93 L490.80,344.30 L490.84,343.67 L490.96,343.20 L491.15,342.82 L491.42,342.51 L491.75,342.28 L492.16,342.15 L492.70,342.10 L493.24,342.15 L493.65,342.28 L493.98,342.51 L494.25,342.82 L494.44,343.20 L494.56,343.67Z" fill="#000080"/>
<path d="M494.20,348.30 L494.17,348.64 L494.08,348.90 L493.92,349.11 L493.71,349.28 L493.45,349.40 L493.13,349.47 L492.70,349.50 L492.27,349.47 L491.95,349.40 L491.69,349.28 L491.48,349.11 L491.32,348.90 L491.23,348.64 L491.20,348.30 L491.23,347.96 L491.32,347.70 L491.48,347.49 L491.69,347.32 L491.95,347.20 L492.27,347.13 L492.70,347.10 L493.13,347.13 L493.45,347.20 L493.71,347.32 L493.92,347.49 L494.08,347.70 L494.17,347.96Z" fill="#000080"/>
<path d="M494.40,351.00 L494.36,351.46 L494.26,351.80 L494.08,352.08 L493.85,352.30 L493.55,352.47 L493.19,352.57 L492.70,352.60 L492.21,352.57 L491.85,352.47 L491.55,352.30 L491.32,352.08 L491.14,351.80 L491.04,351.46 L491.00,351.00 L491.04,350.54 L491.14,350.20 L491.32,349.92 L491.55,349.70 L491.85,349.53 L492.21,349.43 L492.70,349.40 L493.19,349.43 L493.55,349.53 L493.85,349.70 L494.08,349.92 L494.26,350.20 L494.36,350.54Z" fill="#000080"/>
<path d="M494.30,354.00 L494.27,354.40 L494.17,354.70 L494.00,354.94 L493.78,355.14 L493.50,355.28 L493.16,355.37 L492.70,355.40 L492.24,355.37 L491.90,355.28 L491.62,355.14 L491.40,354.94 L491.23,354.70 L491.13,354.40 L491.10,354.00 L491.13,353.60 L491.23,353.30 L491.40,353.06 L491.62,352.86 L491.90,352.72 L492.24,352.63 L492.70,352.60 L493.16,352.63 L493.50,352.72 L493.78,352.86 L494.00,353.06 L494.17,353.30 L494.27,353.60Z" fill="#000080"/>
<path d="M494.50,358.50 L494.46,359.07 L494.35,359.50 L494.17,359.85 L493.91,360.13 L493.60,360.33 L493.21,360.46 L492.70,360.50 L492.19,360.46 L491.80,360.33 L491.49,360.13 L491.23,359.85 L491.05,359.50 L490.94,359.07 L490.90,358.50 L490.94,357.93 L491.05,357.50 L491.23,357.15 L491.49,356.87 L491.80,356.67 L492.19,356.54 L492.70,356.50 L493.21,356.54 L493.60,356.67 L493.91,356.87 L494.17,357.15 L494.35,357.50 L494.46,357.93Z" fill="#000080"/>
<ellipse cx="453.6" cy="315.2" rx="0.68" ry="0.56" fill="#0000e6"/>
<path d="M494.05,327.70 L494.02,328.16 L493.94,328.50 L493.80,328.78 L493.61,329.01 L493.37,329.17 L493.09,329.27 L492.70,329.31 L492.31,329.27 L492.03,329.17 L491.79,329.01 L491.60,328.78 L491.46,328.50 L491.38,328.16 L491.35,327.70 L491.38,327.24 L491.46,326.90 L491.60,326.62 L491.79,326.39 L492.03,326.23 L492.31,326.13 L492.70,326.09 L493.09,326.13 L493.37,326.23 L493.61,326.39 L493.80,326.62 L493.94,326.90 L494.02,327.24Z" fill="#0005ff"/>
<path d="M494.20,334.00 L494.17,334.51 L494.08,334.89 L493.92,335.20 L493.71,335.45 L493.45,335.63 L493.13,335.74 L492.70,335.78 L492.27,335.74 L491.95,335.63 L491.69,335.45 L491.48,335.20 L491.32,334.89 L491.23,334.51 L491.20,334.00 L491.23,333.49 L491.32,333.11 L491.48,332.80 L491.69,332.55 L491.95,332.37 L492.27,332.26 L492.70,332.22 L493.13,332.26 L493.45,332.37 L493.71,332.55 L493.92,332.80 L494.08,333.11 L494.17,333.49Z" fill="#0005ff"/>
<path d="M493.98,340.00 L493.95,340.34 L493.87,340.60 L493.74,340.81 L493.56,340.98 L493.34,341.10 L493.07,341.18 L492.70,341.20 L492.33,341.18 L492.06,341.10 L491.84,340.98 L491.66,340.81 L491.53,340.60 L491.45,340.34 L491.42,340.00 L491.45,339.66 L491.53,339.40 L491.66,339.19 L491.84,339.02 L492.06,338.90 L492.33,338.82 L492.70,338.80 L493.07,338.82 L493.34,338.90 L493.56,339.02 L493.74,339.19 L493.87,339.40 L493.95,339.66Z" fill="#0005ff"/>
<path d="M494.30,344.30 L494.27,344.82 L494.17,345.20 L494.01,345.52 L493.78,345.77 L493.50,345.96 L493.16,346.07 L492.70,346.11 L492.24,346.07 L491.90,345.96 L491.62,345.77 L491.39,345.52 L491.23,345.20 L491.13,344.82 L491.10,344.30 L491.13,343.78 L491.23,343.40 L491.39,343.08 L491.62,342.83 L491.90,342.64 L492.24,342.53 L492.70,342.49 L493.16,342.53 L493.50,342.64 L493.78,342.83 L494.01,343.08 L494.17,343.40 L494.27,343.78Z" fill="#0005ff"/>
<ellipse cx="492.7" cy="348.3" rx="0.81" ry="0.39" fill="#0000fa"/>
<path d="M494.09,351.00 L494.07,351.36 L493.98,351.63 L493.84,351.85 L493.64,352.02 L493.40,352.15 L493.10,352.23 L492.70,352.25 L492.30,352.23 L492.00,352.15 L491.76,352.02 L491.56,351.85 L491.42,351.63 L491.33,351.36 L491.31,351.00 L491.33,350.64 L491.42,350.37 L491.56,350.15 L491.76,349.98 L492.00,349.85 L492.30,349.77 L492.70,349.75 L493.10,349.77 L493.40,349.85 L493.64,349.98 L493.84,350.15 L493.98,350.37 L494.07,350.64Z" fill="#0005ff"/>
<ellipse cx="492.7" cy="354.0" rx="1.06" ry="0.73" fill="#0005ff"/>
<ellipse cx="492.7" cy="327.7" rx="1.06" ry="0.96" fill="#004dff"/>
<path d="M494.16,334.00 L494.13,334.48 L494.04,334.84 L493.89,335.14 L493.68,335.37 L493.43,335.54 L493.12,335.65 L492.70,335.69 L492.28,335.65 L491.97,335.54 L491.72,335.37 L491.51,335.14 L491.36,334.84 L491.27,334.48 L491.24,334.00 L491.27,333.52 L491.36,333.16 L491.51,332.86 L491.72,332.63 L491.97,332.46 L492.28,332.35 L492.70,332.31 L493.12,332.35 L493.43,332.46 L493.68,332.63 L493.89,332.86 L494.04,333.16 L494.13,333.52Z" fill="#0057ff"/>
<ellipse cx="492.7" cy="340.0" rx="1.00" ry="0.72" fill="#004dff"/>
<path d="M494.27,344.30 L494.24,344.80 L494.14,345.17 L493.98,345.48 L493.76,345.73 L493.48,345.91 L493.15,346.02 L492.70,346.05 L492.25,346.02 L491.92,345.91 L491.64,345.73 L491.42,345.48 L491.26,345.17 L491.16,344.80 L491.13,344.30 L491.16,343.80 L491.26,343.43 L491.42,343.12 L491.64,342.87 L491.92,342.69 L492.25,342.58 L492.70,342.55 L493.15,342.58 L493.48,342.69 L493.76,342.87 L493.98,343.12 L494.14,343.43 L494.24,343.80Z" fill="#0057ff"/>
<path d="M494.02,351.00 L493.99,351.33 L493.91,351.57 L493.78,351.77 L493.59,351.93 L493.36,352.04 L493.08,352.11 L492.70,352.14 L492.32,352.11 L492.04,352.04 L491.81,351.93 L491.62,351.77 L491.49,351.57 L491.41,351.33 L491.38,351.00 L491.41,350.67 L491.49,350.43 L491.62,350.23 L491.81,350.07 L492.04,349.96 L492.32,349.89 L492.70,349.86 L493.08,349.89 L493.36,349.96 L493.59,350.07 L493.78,350.23 L493.91,350.43 L493.99,350.67Z" fill="#0057ff"/>
<path d="M494.11,334.00 L494.08,334.45 L493.99,334.79 L493.84,335.07 L493.65,335.29 L493.40,335.45 L493.10,335.55 L492.70,335.58 L492.30,335.55 L492.00,335.45 L491.75,335.29 L491.56,335.07 L491.41,334.79 L491.32,334.45 L491.29,334.00 L491.32,333.55 L491.41,333.21 L491.56,332.93 L491.75,332.71 L492.00,332.55 L492.30,332.45 L492.70,332.42 L493.10,332.45 L493.40,332.55 L493.65,332.71 L493.84,332.93 L493.99,333.21 L494.08,333.55Z" fill="#00a8ff"/>
<path d="M494.24,344.30 L494.21,344.78 L494.11,345.14 L493.96,345.44 L493.74,345.68 L493.47,345.85 L493.14,345.96 L492.70,345.99 L492.26,345.96 L491.93,345.85 L491.66,345.68 L491.44,345.44 L491.29,345.14 L491.19,344.78 L491.16,344.30 L491.19,343.82 L491.29,343.46 L491.44,343.16 L491.66,342.92 L491.93,342.75 L492.26,342.64 L492.70,342.61 L493.14,342.64 L493.47,342.75 L493.74,342.92 L493.96,343.16 L494.11,343.46 L494.21,343.82Z" fill="#00a8ff"/>
<path d="M493.92,351.00 L493.90,351.28 L493.82,351.49 L493.70,351.66 L493.53,351.80 L493.31,351.90 L493.05,351.97 L492.70,351.99 L492.35,351.97 L492.09,351.90 L491.87,351.80 L491.70,351.66 L491.58,351.49 L491.50,351.28 L491.48,351.00 L491.50,350.72 L491.58,350.51 L491.70,350.34 L491.87,350.20 L492.09,350.10 L492.35,350.03 L492.70,350.01 L493.05,350.03 L493.31,350.10 L493.53,350.20 L493.70,350.34 L493.82,350.51 L493.90,350.72Z" fill="#00a8ff"/>
<path d="M494.04,334.00 L494.02,334.42 L493.93,334.72 L493.79,334.98 L493.61,335.18 L493.37,335.33 L493.08,335.42 L492.70,335.45 L492.32,335.42 L492.03,335.33 L491.79,335.18 L491.61,334.98 L491.47,334.72 L491.38,334.42 L491.36,334.00 L491.38,333.58 L491.47,333.28 L491.61,333.02 L491.79,332.82 L492.03,332.67 L492.32,332.58 L492.70,332.55 L493.08,332.58 L493.37,332.67 L493.61,332.82 L493.79,333.02 L493.93,333.28 L494.02,333.58Z" fill="#00faff"/>
<path d="M494.21,344.30 L494.18,344.76 L494.08,345.11 L493.93,345.40 L493.72,345.62 L493.45,345.79 L493.13,345.89 L492.70,345.92 L492.27,345.89 L491.95,345.79 L491.68,345.62 L491.47,345.40 L491.32,345.11 L491.22,344.76 L491.19,344.30 L491.22,343.84 L491.32,343.49 L491.47,343.20 L491.68,342.98 L491.95,342.81 L492.27,342.71 L492.70,342.68 L493.13,342.71 L493.45,342.81 L493.72,342.98 L493.93,343.20 L494.08,343.49 L494.18,343.84Z" fill="#00faff"/>
<ellipse cx="492.7" cy="351.0" rx="1.07" ry="0.74" fill="#00faff"/>
<path d="M493.97,334.00 L493.94,334.37 L493.86,334.65 L493.73,334.87 L493.55,335.05 L493.33,335.19 L493.06,335.27 L492.70,335.29 L492.34,335.27 L492.07,335.19 L491.85,335.05 L491.67,334.87 L491.54,334.65 L491.46,334.37 L491.43,334.00 L491.46,333.63 L491.54,333.35 L491.67,333.13 L491.85,332.95 L492.07,332.81 L492.34,332.73 L492.70,332.71 L493.06,332.73 L493.33,332.81 L493.55,332.95 L493.73,333.13 L493.86,333.35 L493.94,333.63Z" fill="#4dffb2"/>
<path d="M494.17,344.30 L494.14,344.74 L494.05,345.07 L493.90,345.35 L493.69,345.56 L493.43,345.72 L493.12,345.82 L492.70,345.85 L492.28,345.82 L491.97,345.72 L491.71,345.56 L491.50,345.35 L491.35,345.07 L491.26,344.74 L491.23,344.30 L491.26,343.86 L491.35,343.53 L491.50,343.25 L491.71,343.04 L491.97,342.88 L492.28,342.78 L492.70,342.75 L493.12,342.78 L493.43,342.88 L493.69,343.04 L493.90,343.25 L494.05,343.53 L494.14,343.86Z" fill="#4dffb2"/>
<ellipse cx="492.7" cy="334.0" rx="1.15" ry="1.07" fill="#9eff61"/>
<path d="M494.12,344.30 L494.09,344.72 L494.01,345.03 L493.86,345.29 L493.66,345.49 L493.41,345.64 L493.11,345.73 L492.70,345.76 L492.29,345.73 L491.99,345.64 L491.74,345.49 L491.54,345.29 L491.39,345.03 L491.31,344.72 L491.28,344.30 L491.31,343.88 L491.39,343.57 L491.54,343.31 L491.74,343.11 L491.99,342.96 L492.29,342.87 L492.70,342.84 L493.11,342.87 L493.41,342.96 L493.66,343.11 L493.86,343.31 L494.01,343.57 L494.09,343.88Z" fill="#9eff61"/>
<ellipse cx="492.7" cy="334.0" rx="0.90" ry="0.55" fill="#d1ff2e"/>
<path d="M494.07,344.30 L494.04,344.69 L493.96,344.98 L493.82,345.22 L493.63,345.41 L493.38,345.55 L493.09,345.64 L492.70,345.67 L492.31,345.64 L492.02,345.55 L491.77,345.41 L491.58,345.22 L491.44,344.98 L491.36,344.69 L491.33,344.30 L491.36,343.91 L491.44,343.62 L491.58,343.38 L491.77,343.19 L492.02,343.05 L492.31,342.96 L492.70,342.93 L493.09,342.96 L493.38,343.05 L493.63,343.19 L493.82,343.38 L493.96,343.62 L494.04,343.91Z" fill="#f0ff0f"/>
<path d="M494.01,344.30 L493.99,344.66 L493.90,344.92 L493.77,345.14 L493.59,345.32 L493.35,345.45 L493.08,345.52 L492.70,345.55 L492.32,345.52 L492.05,345.45 L491.81,345.32 L491.63,345.14 L491.50,344.92 L491.41,344.66 L491.39,344.30 L491.41,343.94 L491.50,343.68 L491.63,343.46 L491.81,343.28 L492.05,343.15 L492.32,343.08 L492.70,343.05 L493.08,343.08 L493.35,343.15 L493.59,343.28 L493.77,343.46 L493.90,343.68 L493.99,343.94Z" fill="#ffbd00"/>
<path d="M493.93,344.30 L493.91,344.61 L493.83,344.85 L493.71,345.04 L493.53,345.20 L493.32,345.31 L493.05,345.38 L492.70,345.40 L492.35,345.38 L492.08,345.31 L491.87,345.20 L491.69,345.04 L491.57,344.85 L491.49,344.61 L491.47,344.30 L491.49,343.99 L491.57,343.75 L491.69,343.56 L491.87,343.40 L492.08,343.29 L492.35,343.22 L492.70,343.20 L493.05,343.22 L493.32,343.29 L493.53,343.40 L493.71,343.56 L493.83,343.75 L493.91,343.99Z" fill="#ff6b00"/>
<ellipse cx="492.7" cy="344.3" rx="1.12" ry="0.88" fill="#ff1a00"/>
<ellipse cx="161.9" cy="218.2" rx="2.45" ry="3.55" fill="none" stroke="#00007a" stroke-width="1.7"/>
<rect x="54" y="56" width="213" height="175" fill="none" stroke="#000" stroke-width="2"/>
<line x1="54" y1="55.6" x2="56.5" y2="55.6" stroke="#000" stroke-width="1.5"/>
<line x1="264.5" y1="55.6" x2="267" y2="55.6" stroke="#000" stroke-width="1.5"/>
<text x="46.5" y="62.4" font-size="19" text-anchor="end" fill="#000">40</text>
<line x1="54" y1="145.5" x2="56.5" y2="145.5" stroke="#000" stroke-width="1.5"/>
<line x1="264.5" y1="145.5" x2="267" y2="145.5" stroke="#000" stroke-width="1.5"/>
<text x="46.5" y="152.3" font-size="19" text-anchor="end" fill="#000">20</text>
<rect x="394" y="54" width="213" height="176" fill="none" stroke="#000" stroke-width="2"/>
<line x1="394" y1="55.5" x2="396.5" y2="55.5" stroke="#000" stroke-width="1.5"/>
<line x1="604.5" y1="55.5" x2="607" y2="55.5" stroke="#000" stroke-width="1.5"/>
<text x="386.5" y="64.0" font-size="19" text-anchor="end" fill="#000">100</text>
<line x1="394" y1="144.4" x2="396.5" y2="144.4" stroke="#000" stroke-width="1.5"/>
<line x1="604.5" y1="144.4" x2="607" y2="144.4" stroke="#000" stroke-width="1.5"/>
<text x="386.5" y="151.20000000000002" font-size="19" text-anchor="end" fill="#000">50</text>
<rect x="54" y="275" width="216" height="175" fill="none" stroke="#000" stroke-width="2"/>
<line x1="54" y1="275.3" x2="56.5" y2="275.3" stroke="#000" stroke-width="1.5"/>
<line x1="267.5" y1="275.3" x2="270" y2="275.3" stroke="#000" stroke-width="1.5"/>
<text x="46.0" y="282.1" font-size="19" text-anchor="end" fill="#000">40</text>
<line x1="54" y1="364.6" x2="56.5" y2="364.6" stroke="#000" stroke-width="1.5"/>
<line x1="267.5" y1="364.6" x2="270" y2="364.6" stroke="#000" stroke-width="1.5"/>
<text x="46.0" y="371.40000000000003" font-size="19" text-anchor="end" fill="#000">20</text>
<rect x="397" y="274.5" width="213" height="175.5" fill="none" stroke="#000" stroke-width="2"/>
<line x1="397" y1="275.0" x2="399.5" y2="275.0" stroke="#000" stroke-width="1.5"/>
<line x1="607.5" y1="275.0" x2="610" y2="275.0" stroke="#000" stroke-width="1.5"/>
<text x="389.5" y="284.8" font-size="19" text-anchor="end" fill="#000">100</text>
<line x1="397" y1="364.6" x2="399.5" y2="364.6" stroke="#000" stroke-width="1.5"/>
<line x1="607.5" y1="364.6" x2="610" y2="364.6" stroke="#000" stroke-width="1.5"/>
<text x="389.5" y="371.40000000000003" font-size="19" text-anchor="end" fill="#000">50</text>
<line x1="116.5" y1="56" x2="116.5" y2="58.5" stroke="#000" stroke-width="1.3"/>
<line x1="116.5" y1="228.5" x2="116.5" y2="231" stroke="#000" stroke-width="1.3"/>
<line x1="150.5" y1="56" x2="150.5" y2="58.5" stroke="#000" stroke-width="1.3"/>
<line x1="150.5" y1="228.5" x2="150.5" y2="231" stroke="#000" stroke-width="1.3"/>
<line x1="155.5" y1="56" x2="155.5" y2="58.5" stroke="#000" stroke-width="1.3"/>
<line x1="155.5" y1="228.5" x2="155.5" y2="231" stroke="#000" stroke-width="1.3"/>
<line x1="168.5" y1="56" x2="168.5" y2="58.5" stroke="#000" stroke-width="1.3"/>
<line x1="168.5" y1="228.5" x2="168.5" y2="231" stroke="#000" stroke-width="1.3"/>
<line x1="438.5" y1="54" x2="438.5" y2="56.5" stroke="#000" stroke-width="1.3"/>
<line x1="438.5" y1="227.5" x2="438.5" y2="230" stroke="#000" stroke-width="1.3"/>
<line x1="489.5" y1="54" x2="489.5" y2="56.5" stroke="#000" stroke-width="1.3"/>
<line x1="489.5" y1="227.5" x2="489.5" y2="230" stroke="#000" stroke-width="1.3"/>
<line x1="493.5" y1="54" x2="493.5" y2="56.5" stroke="#000" stroke-width="1.3"/>
<line x1="493.5" y1="227.5" x2="493.5" y2="230" stroke="#000" stroke-width="1.3"/>
<line x1="568.5" y1="54" x2="568.5" y2="56.5" stroke="#000" stroke-width="1.3"/>
<line x1="568.5" y1="227.5" x2="568.5" y2="230" stroke="#000" stroke-width="1.3"/>
<line x1="118.5" y1="275" x2="118.5" y2="277.5" stroke="#000" stroke-width="1.3"/>
<line x1="118.5" y1="447.5" x2="118.5" y2="450" stroke="#000" stroke-width="1.3"/>
<line x1="151.5" y1="275" x2="151.5" y2="277.5" stroke="#000" stroke-width="1.3"/>
<line x1="151.5" y1="447.5" x2="151.5" y2="450" stroke="#000" stroke-width="1.3"/>
<line x1="156.5" y1="275" x2="156.5" y2="277.5" stroke="#000" stroke-width="1.3"/>
<line x1="156.5" y1="447.5" x2="156.5" y2="450" stroke="#000" stroke-width="1.3"/>
<line x1="170.5" y1="275" x2="170.5" y2="277.5" stroke="#000" stroke-width="1.3"/>
<line x1="170.5" y1="447.5" x2="170.5" y2="450" stroke="#000" stroke-width="1.3"/>
<line x1="440.5" y1="274.5" x2="440.5" y2="277.0" stroke="#000" stroke-width="1.3"/>
<line x1="440.5" y1="447.5" x2="440.5" y2="450" stroke="#000" stroke-width="1.3"/>
<line x1="492.5" y1="274.5" x2="492.5" y2="277.0" stroke="#000" stroke-width="1.3"/>
<line x1="492.5" y1="447.5" x2="492.5" y2="450" stroke="#000" stroke-width="1.3"/>
<line x1="496.5" y1="274.5" x2="496.5" y2="277.0" stroke="#000" stroke-width="1.3"/>
<line x1="496.5" y1="447.5" x2="496.5" y2="450" stroke="#000" stroke-width="1.3"/>
<line x1="571.5" y1="274.5" x2="571.5" y2="277.0" stroke="#000" stroke-width="1.3"/>
<line x1="571.5" y1="447.5" x2="571.5" y2="450" stroke="#000" stroke-width="1.3"/>
<rect x="278.5" y="54.0" width="12.5" height="179.5" fill="url(#jet)"/>
<rect x="279.15" y="54.65" width="11.2" height="178.2" fill="none" stroke="#1a1a1a" stroke-width="1.3"/>
<line x1="278.5" y1="84.8" x2="280.3" y2="84.8" stroke="#000" stroke-width="1.2"/>
<line x1="289.2" y1="84.8" x2="291.0" y2="84.8" stroke="#000" stroke-width="1.2"/>
<text x="298.0" y="91.6" font-size="19" fill="#000">60</text>
<line x1="278.5" y1="144.5" x2="280.3" y2="144.5" stroke="#000" stroke-width="1.2"/>
<line x1="289.2" y1="144.5" x2="291.0" y2="144.5" stroke="#000" stroke-width="1.2"/>
<text x="298.0" y="151.3" font-size="19" fill="#000">40</text>
<line x1="278.5" y1="203.8" x2="280.3" y2="203.8" stroke="#000" stroke-width="1.2"/>
<line x1="289.2" y1="203.8" x2="291.0" y2="203.8" stroke="#000" stroke-width="1.2"/>
<text x="298.0" y="210.60000000000002" font-size="19" fill="#000">20</text>
<rect x="616.5" y="53.6" width="12.5" height="180.4" fill="url(#jet)"/>
<rect x="617.15" y="54.25" width="11.2" height="179.1" fill="none" stroke="#1a1a1a" stroke-width="1.3"/>
<text x="636.0" y="62.199999999999996" font-size="19" fill="#000">200</text>
<line x1="616.5" y1="104.7" x2="618.3" y2="104.7" stroke="#000" stroke-width="1.2"/>
<line x1="627.2" y1="104.7" x2="629.0" y2="104.7" stroke="#000" stroke-width="1.2"/>
<text x="636.0" y="111.5" font-size="19" fill="#000">150</text>
<line x1="616.5" y1="154.5" x2="618.3" y2="154.5" stroke="#000" stroke-width="1.2"/>
<line x1="627.2" y1="154.5" x2="629.0" y2="154.5" stroke="#000" stroke-width="1.2"/>
<text x="636.0" y="161.3" font-size="19" fill="#000">100</text>
<line x1="616.5" y1="203.8" x2="618.3" y2="203.8" stroke="#000" stroke-width="1.2"/>
<line x1="627.2" y1="203.8" x2="629.0" y2="203.8" stroke="#000" stroke-width="1.2"/>
<text x="636.0" y="210.60000000000002" font-size="19" fill="#000">50</text>
<rect x="278.5" y="273.4" width="12.5" height="178.20000000000005" fill="url(#jet)"/>
<rect x="279.15" y="274.04999999999995" width="11.2" height="176.90000000000003" fill="none" stroke="#1a1a1a" stroke-width="1.3"/>
<text x="299.5" y="281.1" font-size="19" fill="#000">120</text>
<line x1="278.5" y1="309.8" x2="280.3" y2="309.8" stroke="#000" stroke-width="1.2"/>
<line x1="289.2" y1="309.8" x2="291.0" y2="309.8" stroke="#000" stroke-width="1.2"/>
<text x="299.5" y="316.6" font-size="19" fill="#000">100</text>
<line x1="278.5" y1="345.3" x2="280.3" y2="345.3" stroke="#000" stroke-width="1.2"/>
<line x1="289.2" y1="345.3" x2="291.0" y2="345.3" stroke="#000" stroke-width="1.2"/>
<text x="299.5" y="352.1" font-size="19" fill="#000">80</text>
<line x1="278.5" y1="380.8" x2="280.3" y2="380.8" stroke="#000" stroke-width="1.2"/>
<line x1="289.2" y1="380.8" x2="291.0" y2="380.8" stroke="#000" stroke-width="1.2"/>
<text x="299.5" y="387.6" font-size="19" fill="#000">60</text>
<line x1="278.5" y1="416.3" x2="280.3" y2="416.3" stroke="#000" stroke-width="1.2"/>
<line x1="289.2" y1="416.3" x2="291.0" y2="416.3" stroke="#000" stroke-width="1.2"/>
<text x="299.5" y="423.1" font-size="19" fill="#000">40</text>
<text x="299.5" y="458.8" font-size="19" fill="#000">20</text>
<rect x="618.0" y="273.3" width="12.5" height="178.09999999999997" fill="url(#jet)"/>
<rect x="618.65" y="273.95" width="11.2" height="176.79999999999995" fill="none" stroke="#1a1a1a" stroke-width="1.3"/>
<text x="637.5" y="281.40000000000003" font-size="19" fill="#000">250</text>
<line x1="618.0" y1="319.0" x2="619.8" y2="319.0" stroke="#000" stroke-width="1.2"/>
<line x1="628.7" y1="319.0" x2="630.5" y2="319.0" stroke="#000" stroke-width="1.2"/>
<text x="637.5" y="325.8" font-size="19" fill="#000">200</text>
<line x1="618.0" y1="363.4" x2="619.8" y2="363.4" stroke="#000" stroke-width="1.2"/>
<line x1="628.7" y1="363.4" x2="630.5" y2="363.4" stroke="#000" stroke-width="1.2"/>
<text x="637.5" y="370.2" font-size="19" fill="#000">150</text>
<line x1="618.0" y1="407.8" x2="619.8" y2="407.8" stroke="#000" stroke-width="1.2"/>
<line x1="628.7" y1="407.8" x2="630.5" y2="407.8" stroke="#000" stroke-width="1.2"/>
<text x="637.5" y="414.6" font-size="19" fill="#000">100</text>
<text x="637.5" y="459.0" font-size="19" fill="#000">50</text>
<text x="58.3" y="472.5" font-size="19" text-anchor="middle" fill="#000">1,549.8</text>
<text x="167.0" y="473.8" font-size="19" text-anchor="middle" fill="#000">1,550.0</text>
<text x="265.2" y="475.8" font-size="19" text-anchor="middle" fill="#000">1,550.2</text>
<text x="396.6" y="475.9" font-size="19" text-anchor="middle" fill="#000">1,050</text>
<text x="505.1" y="475.7" font-size="19" text-anchor="middle" fill="#000">1,550</text>
<text x="606.4" y="473.5" font-size="19" text-anchor="middle" fill="#000">2,050</text>
<text x="93.0" y="100.3" font-size="17" letter-spacing="1.8" fill="#000">R3</text>
<text x="127.5" y="77.5" font-size="17" letter-spacing="1.8" fill="#000">R2</text>
<text x="154.5" y="77.5" font-size="17" letter-spacing="1.8" fill="#000">R1</text>
<text x="169.5" y="100.3" font-size="17" letter-spacing="1.8" fill="#000">R4</text>
<text x="416.0" y="77.7" font-size="17" letter-spacing="1.8" fill="#000">R5</text>
<text x="468.0" y="77.7" font-size="17" letter-spacing="1.8" fill="#000">R7</text>
<text x="499.0" y="77.7" font-size="17" letter-spacing="1.8" fill="#000">R6</text>
<text x="571.5" y="77.7" font-size="17" letter-spacing="1.8" fill="#000">R8</text>
<text x="93.5" y="321.1" font-size="17" letter-spacing="1.8" fill="#000">R3</text>
<text x="127.7" y="299.8" font-size="17" letter-spacing="1.8" fill="#000">R2</text>
<text x="154.7" y="299.8" font-size="17" letter-spacing="1.8" fill="#000">R1</text>
<text x="170.1" y="321.1" font-size="17" letter-spacing="1.8" fill="#000">R4</text>
<text x="418.2" y="299.2" font-size="17" letter-spacing="1.8" fill="#000">R5</text>
<text x="469.4" y="299.2" font-size="17" letter-spacing="1.8" fill="#000">R7</text>
<text x="502.0" y="299.2" font-size="17" letter-spacing="1.8" fill="#000">R6</text>
<text x="573.1" y="299.2" font-size="17" letter-spacing="1.8" fill="#000">R8</text>
<text x="275" y="510.3" font-size="18.5" letter-spacing="0.53" fill="#000">Wavelength (nm)</text>
<text transform="translate(19.7,278.2) rotate(-90)" x="0" y="0" font-size="22" letter-spacing="0.15" fill="#000">Layer</text>
</svg></body></html>
